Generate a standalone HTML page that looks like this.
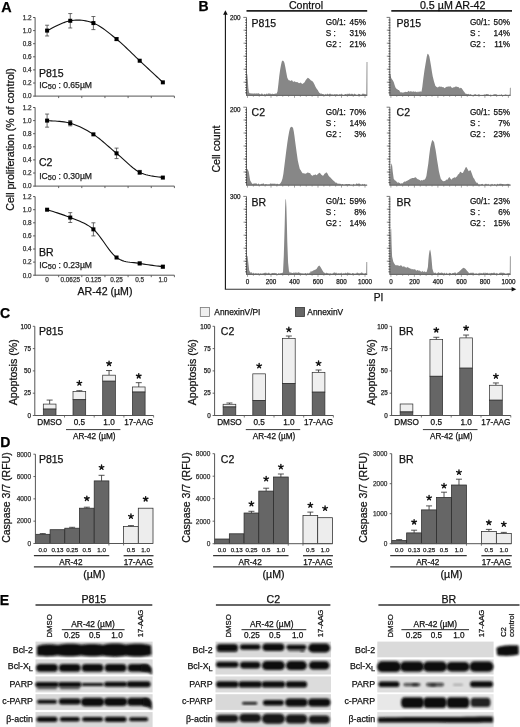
<!DOCTYPE html>
<html><head><meta charset="utf-8"><style>
html,body{margin:0;padding:0;background:#fff;}
svg{display:block;will-change:transform;}
text{font-family:"Liberation Sans",sans-serif;}
</style></head><body>
<svg width="520" height="727" viewBox="0 0 520 727">
<rect width="520" height="727" fill="#fff"/>
<text x="1.2" y="11.5" font-size="14.4" font-weight="bold" fill="#000" stroke="#000" stroke-width="0.25">A</text>
<text x="198.6" y="10.8" font-size="14" font-weight="bold" fill="#000" stroke="#000" stroke-width="0.25">B</text>
<text x="0" y="317.9" font-size="14" font-weight="bold" fill="#000" stroke="#000" stroke-width="0.25">C</text>
<text x="0.2" y="447.4" font-size="14" font-weight="bold" fill="#000" stroke="#000" stroke-width="0.25">D</text>
<text x="-0.3" y="605" font-size="14" font-weight="bold" fill="#000" stroke="#000" stroke-width="0.25">E</text>
<line x1="35.1" y1="17.5" x2="35.1" y2="96.6" stroke="#555" stroke-width="1"/>
<line x1="35.1" y1="96.1" x2="174.4" y2="96.1" stroke="#555" stroke-width="1"/>
<line x1="33.1" y1="96.1" x2="35.1" y2="96.1" stroke="#555" stroke-width="1"/>
<text x="31.6" y="98.4" font-size="6.4" text-anchor="end" fill="#333" stroke="#333" stroke-width="0.25">0.0</text>
<line x1="33.1" y1="83" x2="35.1" y2="83" stroke="#555" stroke-width="1"/>
<text x="31.6" y="85.3" font-size="6.4" text-anchor="end" fill="#333" stroke="#333" stroke-width="0.25">0.2</text>
<line x1="33.1" y1="69.9" x2="35.1" y2="69.9" stroke="#555" stroke-width="1"/>
<text x="31.6" y="72.2" font-size="6.4" text-anchor="end" fill="#333" stroke="#333" stroke-width="0.25">0.4</text>
<line x1="33.1" y1="56.8" x2="35.1" y2="56.8" stroke="#555" stroke-width="1"/>
<text x="31.6" y="59.1" font-size="6.4" text-anchor="end" fill="#333" stroke="#333" stroke-width="0.25">0.6</text>
<line x1="33.1" y1="43.7" x2="35.1" y2="43.7" stroke="#555" stroke-width="1"/>
<text x="31.6" y="46" font-size="6.4" text-anchor="end" fill="#333" stroke="#333" stroke-width="0.25">0.8</text>
<line x1="33.1" y1="30.6" x2="35.1" y2="30.6" stroke="#555" stroke-width="1"/>
<text x="31.6" y="32.9" font-size="6.4" text-anchor="end" fill="#333" stroke="#333" stroke-width="0.25">1.0</text>
<line x1="33.1" y1="17.5" x2="35.1" y2="17.5" stroke="#555" stroke-width="1"/>
<text x="31.6" y="19.8" font-size="6.4" text-anchor="end" fill="#333" stroke="#333" stroke-width="0.25">1.2</text>
<line x1="58.65" y1="96.1" x2="58.65" y2="98.1" stroke="#555" stroke-width="0.9"/>
<line x1="81.8" y1="96.1" x2="81.8" y2="98.1" stroke="#555" stroke-width="0.9"/>
<line x1="104.95" y1="96.1" x2="104.95" y2="98.1" stroke="#555" stroke-width="0.9"/>
<line x1="128.1" y1="96.1" x2="128.1" y2="98.1" stroke="#555" stroke-width="0.9"/>
<line x1="151.25" y1="96.1" x2="151.25" y2="98.1" stroke="#555" stroke-width="0.9"/>
<line x1="174.4" y1="96.1" x2="174.4" y2="98.1" stroke="#555" stroke-width="0.9"/>
<polyline fill="none" stroke="#111" stroke-width="1.1" points="47.1,30.6 48.22,30.09 49.62,29.39 51.26,28.55 53.1,27.6 55.1,26.59 57.23,25.54 59.43,24.51 61.68,23.52 63.92,22.61 66.12,21.82 68.25,21.2 70.25,20.78 72.18,20.5 74.11,20.3 76.04,20.17 77.97,20.13 79.9,20.17 81.83,20.3 83.75,20.52 85.68,20.84 87.61,21.24 89.54,21.75 91.47,22.36 93.4,23.07 95.33,23.91 97.26,24.88 99.19,25.98 101.12,27.19 103.05,28.5 104.97,29.88 106.9,31.34 108.83,32.84 110.76,34.39 112.69,35.96 114.62,37.54 116.55,39.11 118.48,40.72 120.41,42.4 122.34,44.13 124.27,45.91 126.2,47.73 128.12,49.57 130.05,51.44 131.98,53.32 133.91,55.2 135.84,57.06 137.77,58.91 139.7,60.73 141.7,62.6 143.83,64.58 146.03,66.64 148.27,68.74 150.52,70.83 152.72,72.89 154.85,74.87 156.85,76.74 158.69,78.46 160.33,79.99 161.73,81.3 162.85,82.34"/>
<line x1="47.1" y1="25.23" x2="47.1" y2="35.97" stroke="#444" stroke-width="0.8"/>
<line x1="45.1" y1="25.23" x2="49.1" y2="25.23" stroke="#444" stroke-width="0.8"/>
<line x1="45.1" y1="35.97" x2="49.1" y2="35.97" stroke="#444" stroke-width="0.8"/>
<rect x="45.1" y="28.6" width="4" height="4" fill="#000"/>
<line x1="70.25" y1="13.57" x2="70.25" y2="27.98" stroke="#444" stroke-width="0.8"/>
<line x1="68.25" y1="13.57" x2="72.25" y2="13.57" stroke="#444" stroke-width="0.8"/>
<line x1="68.25" y1="27.98" x2="72.25" y2="27.98" stroke="#444" stroke-width="0.8"/>
<rect x="68.25" y="18.78" width="4" height="4" fill="#000"/>
<line x1="93.4" y1="16.52" x2="93.4" y2="29.62" stroke="#444" stroke-width="0.8"/>
<line x1="91.4" y1="16.52" x2="95.4" y2="16.52" stroke="#444" stroke-width="0.8"/>
<line x1="91.4" y1="29.62" x2="95.4" y2="29.62" stroke="#444" stroke-width="0.8"/>
<rect x="91.4" y="21.07" width="4" height="4" fill="#000"/>
<line x1="116.55" y1="37.8" x2="116.55" y2="40.42" stroke="#444" stroke-width="0.8"/>
<line x1="114.55" y1="37.8" x2="118.55" y2="37.8" stroke="#444" stroke-width="0.8"/>
<line x1="114.55" y1="40.42" x2="118.55" y2="40.42" stroke="#444" stroke-width="0.8"/>
<rect x="114.55" y="37.11" width="4" height="4" fill="#000"/>
<rect x="137.7" y="58.73" width="4" height="4" fill="#000"/>
<rect x="160.85" y="80.34" width="4" height="4" fill="#000"/>
<text x="39" y="76.8" font-size="10.5" fill="#111" stroke="#111" stroke-width="0.25">P815</text>
<text x="39.2" y="87.7" font-size="8.6" fill="#222" stroke="#222" stroke-width="0.25">IC<tspan font-size="7.4" dy="1.6">50</tspan><tspan dy="-1.6"> : 0.65µM</tspan></text>
<line x1="35.1" y1="107.5" x2="35.1" y2="186.6" stroke="#555" stroke-width="1"/>
<line x1="35.1" y1="186.1" x2="174.4" y2="186.1" stroke="#555" stroke-width="1"/>
<line x1="33.1" y1="186.1" x2="35.1" y2="186.1" stroke="#555" stroke-width="1"/>
<text x="31.6" y="188.4" font-size="6.4" text-anchor="end" fill="#333" stroke="#333" stroke-width="0.25">0.0</text>
<line x1="33.1" y1="173" x2="35.1" y2="173" stroke="#555" stroke-width="1"/>
<text x="31.6" y="175.3" font-size="6.4" text-anchor="end" fill="#333" stroke="#333" stroke-width="0.25">0.2</text>
<line x1="33.1" y1="159.9" x2="35.1" y2="159.9" stroke="#555" stroke-width="1"/>
<text x="31.6" y="162.2" font-size="6.4" text-anchor="end" fill="#333" stroke="#333" stroke-width="0.25">0.4</text>
<line x1="33.1" y1="146.8" x2="35.1" y2="146.8" stroke="#555" stroke-width="1"/>
<text x="31.6" y="149.1" font-size="6.4" text-anchor="end" fill="#333" stroke="#333" stroke-width="0.25">0.6</text>
<line x1="33.1" y1="133.7" x2="35.1" y2="133.7" stroke="#555" stroke-width="1"/>
<text x="31.6" y="136" font-size="6.4" text-anchor="end" fill="#333" stroke="#333" stroke-width="0.25">0.8</text>
<line x1="33.1" y1="120.6" x2="35.1" y2="120.6" stroke="#555" stroke-width="1"/>
<text x="31.6" y="122.9" font-size="6.4" text-anchor="end" fill="#333" stroke="#333" stroke-width="0.25">1.0</text>
<line x1="33.1" y1="107.5" x2="35.1" y2="107.5" stroke="#555" stroke-width="1"/>
<text x="31.6" y="109.8" font-size="6.4" text-anchor="end" fill="#333" stroke="#333" stroke-width="0.25">1.2</text>
<line x1="58.65" y1="186.1" x2="58.65" y2="188.1" stroke="#555" stroke-width="0.9"/>
<line x1="81.8" y1="186.1" x2="81.8" y2="188.1" stroke="#555" stroke-width="0.9"/>
<line x1="104.95" y1="186.1" x2="104.95" y2="188.1" stroke="#555" stroke-width="0.9"/>
<line x1="128.1" y1="186.1" x2="128.1" y2="188.1" stroke="#555" stroke-width="0.9"/>
<line x1="151.25" y1="186.1" x2="151.25" y2="188.1" stroke="#555" stroke-width="0.9"/>
<line x1="174.4" y1="186.1" x2="174.4" y2="188.1" stroke="#555" stroke-width="0.9"/>
<polyline fill="none" stroke="#111" stroke-width="1.1" points="47.1,120.6 48.22,120.7 49.62,120.79 51.26,120.87 53.1,120.96 55.1,121.07 57.23,121.21 59.43,121.39 61.68,121.62 63.92,121.9 66.12,122.26 68.25,122.7 70.25,123.22 72.18,123.82 74.11,124.49 76.04,125.22 77.97,126.01 79.9,126.86 81.83,127.76 83.75,128.73 85.68,129.75 87.61,130.82 89.54,131.95 91.47,133.12 93.4,134.35 95.33,135.66 97.26,137.07 99.19,138.55 101.12,140.1 103.05,141.71 104.97,143.36 106.9,145.04 108.83,146.73 110.76,148.42 112.69,150.09 114.62,151.74 116.55,153.35 118.48,154.98 120.41,156.68 122.34,158.42 124.27,160.19 126.2,161.96 128.12,163.71 130.05,165.41 131.98,167.03 133.91,168.56 135.84,169.98 137.77,171.24 139.7,172.34 141.7,173.28 143.83,174.07 146.03,174.74 148.27,175.3 150.52,175.77 152.72,176.15 154.85,176.47 156.85,176.74 158.69,176.97 160.33,177.17 161.73,177.38 162.85,177.58"/>
<line x1="47.1" y1="114.05" x2="47.1" y2="127.15" stroke="#444" stroke-width="0.8"/>
<line x1="45.1" y1="114.05" x2="49.1" y2="114.05" stroke="#444" stroke-width="0.8"/>
<line x1="45.1" y1="127.15" x2="49.1" y2="127.15" stroke="#444" stroke-width="0.8"/>
<rect x="45.1" y="118.6" width="4" height="4" fill="#000"/>
<line x1="70.25" y1="120.6" x2="70.25" y2="125.84" stroke="#444" stroke-width="0.8"/>
<line x1="68.25" y1="120.6" x2="72.25" y2="120.6" stroke="#444" stroke-width="0.8"/>
<line x1="68.25" y1="125.84" x2="72.25" y2="125.84" stroke="#444" stroke-width="0.8"/>
<rect x="68.25" y="121.22" width="4" height="4" fill="#000"/>
<rect x="91.4" y="132.35" width="4" height="4" fill="#000"/>
<line x1="116.55" y1="148.11" x2="116.55" y2="158.59" stroke="#444" stroke-width="0.8"/>
<line x1="114.55" y1="148.11" x2="118.55" y2="148.11" stroke="#444" stroke-width="0.8"/>
<line x1="114.55" y1="158.59" x2="118.55" y2="158.59" stroke="#444" stroke-width="0.8"/>
<rect x="114.55" y="151.35" width="4" height="4" fill="#000"/>
<line x1="139.7" y1="170.38" x2="139.7" y2="174.31" stroke="#444" stroke-width="0.8"/>
<line x1="137.7" y1="170.38" x2="141.7" y2="170.38" stroke="#444" stroke-width="0.8"/>
<line x1="137.7" y1="174.31" x2="141.7" y2="174.31" stroke="#444" stroke-width="0.8"/>
<rect x="137.7" y="170.34" width="4" height="4" fill="#000"/>
<rect x="160.85" y="175.58" width="4" height="4" fill="#000"/>
<text x="39" y="166.4" font-size="10.5" fill="#111" stroke="#111" stroke-width="0.25">C2</text>
<text x="39.2" y="178.5" font-size="8.6" fill="#222" stroke="#222" stroke-width="0.25">IC<tspan font-size="7.4" dy="1.6">50</tspan><tspan dy="-1.6"> : 0.30µM</tspan></text>
<line x1="35.1" y1="196.6" x2="35.1" y2="275.7" stroke="#555" stroke-width="1"/>
<line x1="35.1" y1="275.2" x2="174.4" y2="275.2" stroke="#555" stroke-width="1"/>
<line x1="33.1" y1="275.2" x2="35.1" y2="275.2" stroke="#555" stroke-width="1"/>
<text x="31.6" y="277.5" font-size="6.4" text-anchor="end" fill="#333" stroke="#333" stroke-width="0.25">0.0</text>
<line x1="33.1" y1="262.1" x2="35.1" y2="262.1" stroke="#555" stroke-width="1"/>
<text x="31.6" y="264.4" font-size="6.4" text-anchor="end" fill="#333" stroke="#333" stroke-width="0.25">0.2</text>
<line x1="33.1" y1="249" x2="35.1" y2="249" stroke="#555" stroke-width="1"/>
<text x="31.6" y="251.3" font-size="6.4" text-anchor="end" fill="#333" stroke="#333" stroke-width="0.25">0.4</text>
<line x1="33.1" y1="235.9" x2="35.1" y2="235.9" stroke="#555" stroke-width="1"/>
<text x="31.6" y="238.2" font-size="6.4" text-anchor="end" fill="#333" stroke="#333" stroke-width="0.25">0.6</text>
<line x1="33.1" y1="222.8" x2="35.1" y2="222.8" stroke="#555" stroke-width="1"/>
<text x="31.6" y="225.1" font-size="6.4" text-anchor="end" fill="#333" stroke="#333" stroke-width="0.25">0.8</text>
<line x1="33.1" y1="209.7" x2="35.1" y2="209.7" stroke="#555" stroke-width="1"/>
<text x="31.6" y="212" font-size="6.4" text-anchor="end" fill="#333" stroke="#333" stroke-width="0.25">1.0</text>
<line x1="33.1" y1="196.6" x2="35.1" y2="196.6" stroke="#555" stroke-width="1"/>
<text x="31.6" y="198.9" font-size="6.4" text-anchor="end" fill="#333" stroke="#333" stroke-width="0.25">1.2</text>
<line x1="58.65" y1="275.2" x2="58.65" y2="277.2" stroke="#555" stroke-width="0.9"/>
<line x1="81.8" y1="275.2" x2="81.8" y2="277.2" stroke="#555" stroke-width="0.9"/>
<line x1="104.95" y1="275.2" x2="104.95" y2="277.2" stroke="#555" stroke-width="0.9"/>
<line x1="128.1" y1="275.2" x2="128.1" y2="277.2" stroke="#555" stroke-width="0.9"/>
<line x1="151.25" y1="275.2" x2="151.25" y2="277.2" stroke="#555" stroke-width="0.9"/>
<line x1="174.4" y1="275.2" x2="174.4" y2="277.2" stroke="#555" stroke-width="0.9"/>
<polyline fill="none" stroke="#111" stroke-width="1.1" points="47.1,209.7 48.22,210.07 49.62,210.51 51.26,211.02 53.1,211.59 55.1,212.22 57.23,212.89 59.43,213.61 61.68,214.36 63.92,215.13 66.12,215.93 68.25,216.74 70.25,217.56 72.18,218.35 74.11,219.11 76.04,219.85 77.97,220.59 79.9,221.36 81.83,222.19 83.75,223.08 85.68,224.06 87.61,225.16 89.54,226.39 91.47,227.78 93.4,229.35 95.33,231.19 97.26,233.35 99.19,235.76 101.12,238.35 103.05,241.05 104.97,243.8 106.9,246.53 108.83,249.17 110.76,251.66 112.69,253.92 114.62,255.9 116.55,257.51 118.48,258.79 120.41,259.82 122.34,260.62 124.27,261.23 126.2,261.68 128.12,262.02 130.05,262.27 131.98,262.46 133.91,262.64 135.84,262.84 137.77,263.08 139.7,263.41 141.7,263.79 143.83,264.15 146.03,264.49 148.27,264.82 150.52,265.13 152.72,265.42 154.85,265.69 156.85,265.93 158.69,266.16 160.33,266.36 161.73,266.54 162.85,266.69"/>
<rect x="45.1" y="207.7" width="4" height="4" fill="#000"/>
<line x1="70.25" y1="212.65" x2="70.25" y2="222.47" stroke="#444" stroke-width="0.8"/>
<line x1="68.25" y1="212.65" x2="72.25" y2="212.65" stroke="#444" stroke-width="0.8"/>
<line x1="68.25" y1="222.47" x2="72.25" y2="222.47" stroke="#444" stroke-width="0.8"/>
<rect x="68.25" y="215.56" width="4" height="4" fill="#000"/>
<line x1="93.4" y1="222.8" x2="93.4" y2="235.9" stroke="#444" stroke-width="0.8"/>
<line x1="91.4" y1="222.8" x2="95.4" y2="222.8" stroke="#444" stroke-width="0.8"/>
<line x1="91.4" y1="235.9" x2="95.4" y2="235.9" stroke="#444" stroke-width="0.8"/>
<rect x="91.4" y="227.35" width="4" height="4" fill="#000"/>
<rect x="114.55" y="255.51" width="4" height="4" fill="#000"/>
<line x1="139.7" y1="262.1" x2="139.7" y2="264.72" stroke="#444" stroke-width="0.8"/>
<line x1="137.7" y1="262.1" x2="141.7" y2="262.1" stroke="#444" stroke-width="0.8"/>
<line x1="137.7" y1="264.72" x2="141.7" y2="264.72" stroke="#444" stroke-width="0.8"/>
<rect x="137.7" y="261.41" width="4" height="4" fill="#000"/>
<line x1="162.85" y1="265.38" x2="162.85" y2="268" stroke="#444" stroke-width="0.8"/>
<line x1="160.85" y1="265.38" x2="164.85" y2="265.38" stroke="#444" stroke-width="0.8"/>
<line x1="160.85" y1="268" x2="164.85" y2="268" stroke="#444" stroke-width="0.8"/>
<rect x="160.85" y="264.69" width="4" height="4" fill="#000"/>
<text x="39" y="255.9" font-size="10.5" fill="#111" stroke="#111" stroke-width="0.25">BR</text>
<text x="39.2" y="267.6" font-size="8.6" fill="#222" stroke="#222" stroke-width="0.25">IC<tspan font-size="7.4" dy="1.6">50</tspan><tspan dy="-1.6"> : 0.23µM</tspan></text>
<text x="47.1" y="282.3" font-size="6.4" text-anchor="middle" fill="#333" stroke="#333" stroke-width="0.25">0</text>
<text x="70.25" y="282.3" font-size="6.4" text-anchor="middle" fill="#333" stroke="#333" stroke-width="0.25">0.0625</text>
<text x="93.4" y="282.3" font-size="6.4" text-anchor="middle" fill="#333" stroke="#333" stroke-width="0.25">0.125</text>
<text x="116.55" y="282.3" font-size="6.4" text-anchor="middle" fill="#333" stroke="#333" stroke-width="0.25">0.25</text>
<text x="139.7" y="282.3" font-size="6.4" text-anchor="middle" fill="#333" stroke="#333" stroke-width="0.25">0.5</text>
<text x="162.85" y="282.3" font-size="6.4" text-anchor="middle" fill="#333" stroke="#333" stroke-width="0.25">1.0</text>
<text x="105" y="294.9" font-size="10.6" text-anchor="middle" fill="#111" stroke="#111" stroke-width="0.25">AR-42 (µM)</text>
<text transform="translate(14.4,139.5) rotate(-90)" font-size="10.6" text-anchor="middle" fill="#111" stroke="#111" stroke-width="0.25">Cell proliferation (% of control)</text>
<line x1="225.4" y1="14" x2="225.4" y2="289.2" stroke="#111" stroke-width="1.1"/>
<line x1="224.85" y1="289.2" x2="512" y2="289.2" stroke="#333" stroke-width="1.1"/>
<polygon points="225.4,10.3 223.1,14.8 227.7,14.8" fill="#111"/>
<polygon points="516.3,289.2 511.6,286.9 511.6,291.5" fill="#111"/>
<text transform="translate(219.8,149) rotate(-90)" font-size="10.6" text-anchor="middle" fill="#111" stroke="#111" stroke-width="0.25">Cell count</text>
<text x="378.5" y="300.9" font-size="10.2" text-anchor="middle" fill="#111" stroke="#111" stroke-width="0.25">PI</text>
<line x1="246.5" y1="10.9" x2="367.2" y2="10.9" stroke="#222" stroke-width="1.6"/>
<line x1="391.3" y1="10.9" x2="512" y2="10.9" stroke="#222" stroke-width="1.6"/>
<text x="306" y="8.8" font-size="10.6" text-anchor="middle" fill="#111" stroke="#111" stroke-width="0.25">Control</text>
<text x="452.7" y="8.7" font-size="10.7" text-anchor="middle" fill="#111" stroke="#111" stroke-width="0.25">0.5 µM AR-42</text>
<polygon fill="#878787" points="246.6,95.4 246.7,74.5 247.3,74.2 247.8,80 248.3,88 249,92.5 250,93.6 250.71,93.36 251.43,93.13 252.14,93.91 252.86,93.07 253.57,93.8 254.29,93.57 255,93.14 255.71,93.84 256.43,93.16 257.14,93.79 257.86,93.27 258.57,93.33 259.29,93.86 260,94 260.71,94.48 261.43,93.42 262.14,93.56 262.86,94.16 263.57,94.64 264.29,94.07 265,93.8 265.71,94.66 266.43,93.26 267.14,94.47 267.86,93.61 268.57,93.38 269.29,93.33 270,93.9 270.72,93.6 271.44,94.35 272.17,93.39 272.89,93.98 273.61,94.05 274.33,93.64 275.06,93.89 275.78,93.16 276.5,93.8 277.5,91.5 278.4,84 279.2,76.5 280.1,70 281,65 281.8,61.5 282.7,60.4 283.5,61 284.4,62.7 285.3,67 286.2,71.9 287.3,77.7 288.2,79.6 289,80.6 289.75,80.14 290.5,81 291.5,80.3 292.25,80.56 293,81.7 293.75,81.72 294.5,81.2 295.25,81.64 296,82.3 296.85,82.02 297.7,82.3 299,83.2 299.75,83.03 300.5,82.6 301.4,83.23 302.3,84 303.4,83.2 304.6,82.3 305.8,80 306.9,78.8 307.8,77.8 308.7,78.3 309.8,79.2 311,80.6 312.2,81 313.3,82.3 314.5,84.5 315.6,86.9 317,89.2 317.75,90.05 318.5,91.5 319.27,92.71 320.03,93.33 320.8,93.8 321.53,93.52 322.27,94.11 323,94.1 323.71,94.14 324.42,94.67 325.12,94.46 325.83,93.8 326.54,94.84 327.25,93.55 327.96,94.01 328.67,94.52 329.38,93.62 330.08,94.13 330.79,93.45 331.5,94.4 332.21,94.55 332.92,94.27 333.62,94.73 334.33,93.89 335.04,94.46 335.75,94.32 336.46,94.3 337.17,94.12 337.88,94.7 338.58,94.86 339.29,94.16 340,94.2 340.71,94.45 341.42,93.54 342.13,94.5 342.84,94.42 343.55,94.94 344.26,94.68 344.98,93.88 345.69,94.03 346.4,94.45 347.11,93.48 347.82,94.14 348.53,93.7 349.24,93.63 349.95,93.54 350.66,94.6 351.37,93.64 352.08,93.82 352.79,94.04 353.51,94.76 354.22,93.57 354.93,94.12 355.64,94.27 356.35,94.78 357.06,94.68 357.77,94.75 358.48,93.87 359.19,94.07 359.9,93.99 360.61,94.78 361.32,94.89 362.04,93.68 362.75,93.71 363.46,93.8 364.17,93.8 364.88,94.18 365.59,94.33 366.3,94.2 366.6,61.9 367.4,61.9 367.4,95.4"/>
<line x1="246.5" y1="17.4" x2="246.5" y2="95.8" stroke="#555" stroke-width="0.9"/>
<line x1="246.5" y1="95.4" x2="367.2" y2="95.4" stroke="#555" stroke-width="0.9"/>
<line x1="245.1" y1="20" x2="247" y2="20" stroke="#333" stroke-width="0.75"/>
<line x1="245.1" y1="22.6" x2="247" y2="22.6" stroke="#333" stroke-width="0.75"/>
<line x1="245.1" y1="25.2" x2="247" y2="25.2" stroke="#333" stroke-width="0.75"/>
<line x1="245.1" y1="27.8" x2="247" y2="27.8" stroke="#333" stroke-width="0.75"/>
<line x1="245.1" y1="30.4" x2="247" y2="30.4" stroke="#333" stroke-width="0.75"/>
<line x1="245.1" y1="33" x2="247" y2="33" stroke="#333" stroke-width="0.75"/>
<line x1="245.1" y1="35.6" x2="247" y2="35.6" stroke="#333" stroke-width="0.75"/>
<line x1="245.1" y1="38.2" x2="247" y2="38.2" stroke="#333" stroke-width="0.75"/>
<line x1="245.1" y1="40.8" x2="247" y2="40.8" stroke="#333" stroke-width="0.75"/>
<line x1="245.1" y1="43.4" x2="247" y2="43.4" stroke="#333" stroke-width="0.75"/>
<line x1="245.1" y1="46" x2="247" y2="46" stroke="#333" stroke-width="0.75"/>
<line x1="245.1" y1="48.6" x2="247" y2="48.6" stroke="#333" stroke-width="0.75"/>
<line x1="245.1" y1="51.2" x2="247" y2="51.2" stroke="#333" stroke-width="0.75"/>
<line x1="245.1" y1="53.8" x2="247" y2="53.8" stroke="#333" stroke-width="0.75"/>
<line x1="245.1" y1="56.4" x2="247" y2="56.4" stroke="#333" stroke-width="0.75"/>
<line x1="245.1" y1="59" x2="247" y2="59" stroke="#333" stroke-width="0.75"/>
<line x1="245.1" y1="61.6" x2="247" y2="61.6" stroke="#333" stroke-width="0.75"/>
<line x1="245.1" y1="64.2" x2="247" y2="64.2" stroke="#333" stroke-width="0.75"/>
<line x1="245.1" y1="66.8" x2="247" y2="66.8" stroke="#333" stroke-width="0.75"/>
<line x1="245.1" y1="69.4" x2="247" y2="69.4" stroke="#333" stroke-width="0.75"/>
<line x1="245.1" y1="72" x2="247" y2="72" stroke="#333" stroke-width="0.75"/>
<line x1="245.1" y1="74.6" x2="247" y2="74.6" stroke="#333" stroke-width="0.75"/>
<line x1="245.1" y1="77.2" x2="247" y2="77.2" stroke="#333" stroke-width="0.75"/>
<line x1="245.1" y1="79.8" x2="247" y2="79.8" stroke="#333" stroke-width="0.75"/>
<line x1="245.1" y1="82.4" x2="247" y2="82.4" stroke="#333" stroke-width="0.75"/>
<line x1="245.1" y1="85" x2="247" y2="85" stroke="#333" stroke-width="0.75"/>
<line x1="245.1" y1="87.6" x2="247" y2="87.6" stroke="#333" stroke-width="0.75"/>
<line x1="245.1" y1="90.2" x2="247" y2="90.2" stroke="#333" stroke-width="0.75"/>
<line x1="245.1" y1="92.8" x2="247" y2="92.8" stroke="#333" stroke-width="0.75"/>
<line x1="243.5" y1="30.2" x2="246.5" y2="30.2" stroke="#444" stroke-width="0.6"/>
<line x1="243.5" y1="43.2" x2="246.5" y2="43.2" stroke="#444" stroke-width="0.6"/>
<line x1="243.5" y1="56.2" x2="246.5" y2="56.2" stroke="#444" stroke-width="0.6"/>
<line x1="243.5" y1="69.2" x2="246.5" y2="69.2" stroke="#444" stroke-width="0.6"/>
<line x1="243.5" y1="82.2" x2="246.5" y2="82.2" stroke="#444" stroke-width="0.6"/>
<line x1="243.3" y1="17.4" x2="246.5" y2="17.4" stroke="#555" stroke-width="0.8"/>
<line x1="247.5" y1="95.4" x2="247.5" y2="97.8" stroke="#666" stroke-width="0.6"/>
<line x1="253.38" y1="95.4" x2="253.38" y2="96.8" stroke="#666" stroke-width="0.6"/>
<line x1="259.25" y1="95.4" x2="259.25" y2="96.8" stroke="#666" stroke-width="0.6"/>
<line x1="265.12" y1="95.4" x2="265.12" y2="96.8" stroke="#666" stroke-width="0.6"/>
<line x1="271" y1="95.4" x2="271" y2="97.8" stroke="#666" stroke-width="0.6"/>
<line x1="276.88" y1="95.4" x2="276.88" y2="96.8" stroke="#666" stroke-width="0.6"/>
<line x1="282.75" y1="95.4" x2="282.75" y2="96.8" stroke="#666" stroke-width="0.6"/>
<line x1="288.62" y1="95.4" x2="288.62" y2="96.8" stroke="#666" stroke-width="0.6"/>
<line x1="294.5" y1="95.4" x2="294.5" y2="97.8" stroke="#666" stroke-width="0.6"/>
<line x1="300.38" y1="95.4" x2="300.38" y2="96.8" stroke="#666" stroke-width="0.6"/>
<line x1="306.25" y1="95.4" x2="306.25" y2="96.8" stroke="#666" stroke-width="0.6"/>
<line x1="312.12" y1="95.4" x2="312.12" y2="96.8" stroke="#666" stroke-width="0.6"/>
<line x1="318" y1="95.4" x2="318" y2="97.8" stroke="#666" stroke-width="0.6"/>
<line x1="323.88" y1="95.4" x2="323.88" y2="96.8" stroke="#666" stroke-width="0.6"/>
<line x1="329.75" y1="95.4" x2="329.75" y2="96.8" stroke="#666" stroke-width="0.6"/>
<line x1="335.62" y1="95.4" x2="335.62" y2="96.8" stroke="#666" stroke-width="0.6"/>
<line x1="341.5" y1="95.4" x2="341.5" y2="97.8" stroke="#666" stroke-width="0.6"/>
<line x1="347.38" y1="95.4" x2="347.38" y2="96.8" stroke="#666" stroke-width="0.6"/>
<line x1="353.25" y1="95.4" x2="353.25" y2="96.8" stroke="#666" stroke-width="0.6"/>
<line x1="359.12" y1="95.4" x2="359.12" y2="96.8" stroke="#666" stroke-width="0.6"/>
<line x1="365" y1="95.4" x2="365" y2="97.8" stroke="#666" stroke-width="0.6"/>
<text x="240.6" y="20" font-size="6.3" text-anchor="end" fill="#222" stroke="#222" stroke-width="0.25">200</text>
<polygon fill="#878787" points="389.9,95.4 389.9,73.2 390.5,74.5 391.2,77.9 392,79.2 392.9,80.5 393.8,82.2 394.6,85 395.5,87.4 396.7,89 397.4,89.14 398.1,90 398.97,90.12 399.83,91.61 400.7,92.6 401.52,92.25 402.35,92.4 403.18,92.83 404,92 404.8,92.21 405.6,91.86 406.4,91.94 407.2,91.94 408,91.6 408.75,90.76 409.5,91.85 410.25,91.49 411,90.9 411.75,91.66 412.5,91.75 413.25,91.34 414,91.7 414.8,91.69 415.6,91.39 416.4,92.32 417.2,91.6 418,92.4 418.7,91.61 419.4,91.68 420.1,91.47 420.8,91.6 421.5,91.7 422.3,87 423.2,79.6 424.5,70 425.8,62.3 426.7,57 427.5,53.7 428.4,54.2 429.3,56.2 430.1,60.5 431,65.8 431.8,71 432.7,76.2 434,81.5 435.3,85.7 436.6,87 437.9,87.4 438.67,86.63 439.45,86.45 440.23,86.58 441,87 441.75,86.6 442.5,87.2 443.25,86.89 444,87.8 444.75,88.16 445.5,87.57 446.25,86.67 447,87 447.75,86.53 448.5,86.57 449.25,86.5 450,86.6 450.75,86.28 451.5,87.62 452.25,88.09 453,87.6 453.75,87.35 454.5,87.18 455.25,86.38 456,86.8 456.75,86.4 457.5,86.96 458.25,87.05 459,87.6 459.8,88.47 460.6,87.84 461.4,88.01 462.2,89.1 463.5,91 464.7,92.6 465.57,93.84 466.43,93.78 467.3,94.3 468.2,93.87 469.1,94.56 470,94.6 470.71,93.89 471.42,94.65 472.13,95.32 472.84,95.15 473.55,94.9 474.26,94.25 474.98,94.41 475.69,94.11 476.4,95.02 477.11,94.67 477.82,95.04 478.53,94.37 479.24,94.21 479.95,95.09 480.66,95.35 481.37,95.16 482.08,95.09 482.79,95.11 483.5,94.99 484.21,94.23 484.93,94.66 485.64,94.42 486.35,93.93 487.06,93.93 487.77,94.31 488.48,94.29 489.19,94.94 489.9,95.33 490.61,94.57 491.32,95.31 492.03,95.39 492.74,95.34 493.45,94.46 494.16,94.24 494.88,94.25 495.59,94.21 496.3,94.22 497.01,94.85 497.72,95.27 498.43,95.18 499.14,94.64 499.85,94.9 500.56,95.13 501.27,94.06 501.98,94.92 502.69,95.3 503.4,95.11 504.11,95.06 504.82,94.65 505.54,94.21 506.25,95.12 506.96,94.44 507.67,95.15 508.38,95.4 509.09,94.54 509.8,94.7 509.9,87.8 510.7,87.8 510.7,95.4"/>
<line x1="389.8" y1="17.4" x2="389.8" y2="95.8" stroke="#555" stroke-width="0.9"/>
<line x1="389.8" y1="95.4" x2="510.6" y2="95.4" stroke="#555" stroke-width="0.9"/>
<line x1="388.4" y1="20" x2="390.3" y2="20" stroke="#333" stroke-width="0.75"/>
<line x1="388.4" y1="22.6" x2="390.3" y2="22.6" stroke="#333" stroke-width="0.75"/>
<line x1="388.4" y1="25.2" x2="390.3" y2="25.2" stroke="#333" stroke-width="0.75"/>
<line x1="388.4" y1="27.8" x2="390.3" y2="27.8" stroke="#333" stroke-width="0.75"/>
<line x1="388.4" y1="30.4" x2="390.3" y2="30.4" stroke="#333" stroke-width="0.75"/>
<line x1="388.4" y1="33" x2="390.3" y2="33" stroke="#333" stroke-width="0.75"/>
<line x1="388.4" y1="35.6" x2="390.3" y2="35.6" stroke="#333" stroke-width="0.75"/>
<line x1="388.4" y1="38.2" x2="390.3" y2="38.2" stroke="#333" stroke-width="0.75"/>
<line x1="388.4" y1="40.8" x2="390.3" y2="40.8" stroke="#333" stroke-width="0.75"/>
<line x1="388.4" y1="43.4" x2="390.3" y2="43.4" stroke="#333" stroke-width="0.75"/>
<line x1="388.4" y1="46" x2="390.3" y2="46" stroke="#333" stroke-width="0.75"/>
<line x1="388.4" y1="48.6" x2="390.3" y2="48.6" stroke="#333" stroke-width="0.75"/>
<line x1="388.4" y1="51.2" x2="390.3" y2="51.2" stroke="#333" stroke-width="0.75"/>
<line x1="388.4" y1="53.8" x2="390.3" y2="53.8" stroke="#333" stroke-width="0.75"/>
<line x1="388.4" y1="56.4" x2="390.3" y2="56.4" stroke="#333" stroke-width="0.75"/>
<line x1="388.4" y1="59" x2="390.3" y2="59" stroke="#333" stroke-width="0.75"/>
<line x1="388.4" y1="61.6" x2="390.3" y2="61.6" stroke="#333" stroke-width="0.75"/>
<line x1="388.4" y1="64.2" x2="390.3" y2="64.2" stroke="#333" stroke-width="0.75"/>
<line x1="388.4" y1="66.8" x2="390.3" y2="66.8" stroke="#333" stroke-width="0.75"/>
<line x1="388.4" y1="69.4" x2="390.3" y2="69.4" stroke="#333" stroke-width="0.75"/>
<line x1="388.4" y1="72" x2="390.3" y2="72" stroke="#333" stroke-width="0.75"/>
<line x1="388.4" y1="74.6" x2="390.3" y2="74.6" stroke="#333" stroke-width="0.75"/>
<line x1="388.4" y1="77.2" x2="390.3" y2="77.2" stroke="#333" stroke-width="0.75"/>
<line x1="388.4" y1="79.8" x2="390.3" y2="79.8" stroke="#333" stroke-width="0.75"/>
<line x1="388.4" y1="82.4" x2="390.3" y2="82.4" stroke="#333" stroke-width="0.75"/>
<line x1="388.4" y1="85" x2="390.3" y2="85" stroke="#333" stroke-width="0.75"/>
<line x1="388.4" y1="87.6" x2="390.3" y2="87.6" stroke="#333" stroke-width="0.75"/>
<line x1="388.4" y1="90.2" x2="390.3" y2="90.2" stroke="#333" stroke-width="0.75"/>
<line x1="388.4" y1="92.8" x2="390.3" y2="92.8" stroke="#333" stroke-width="0.75"/>
<line x1="386.8" y1="30.2" x2="389.8" y2="30.2" stroke="#444" stroke-width="0.6"/>
<line x1="386.8" y1="43.2" x2="389.8" y2="43.2" stroke="#444" stroke-width="0.6"/>
<line x1="386.8" y1="56.2" x2="389.8" y2="56.2" stroke="#444" stroke-width="0.6"/>
<line x1="386.8" y1="69.2" x2="389.8" y2="69.2" stroke="#444" stroke-width="0.6"/>
<line x1="386.8" y1="82.2" x2="389.8" y2="82.2" stroke="#444" stroke-width="0.6"/>
<line x1="386.6" y1="17.4" x2="389.8" y2="17.4" stroke="#555" stroke-width="0.8"/>
<line x1="390.9" y1="95.4" x2="390.9" y2="97.8" stroke="#666" stroke-width="0.6"/>
<line x1="396.77" y1="95.4" x2="396.77" y2="96.8" stroke="#666" stroke-width="0.6"/>
<line x1="402.65" y1="95.4" x2="402.65" y2="96.8" stroke="#666" stroke-width="0.6"/>
<line x1="408.52" y1="95.4" x2="408.52" y2="96.8" stroke="#666" stroke-width="0.6"/>
<line x1="414.4" y1="95.4" x2="414.4" y2="97.8" stroke="#666" stroke-width="0.6"/>
<line x1="420.27" y1="95.4" x2="420.27" y2="96.8" stroke="#666" stroke-width="0.6"/>
<line x1="426.15" y1="95.4" x2="426.15" y2="96.8" stroke="#666" stroke-width="0.6"/>
<line x1="432.02" y1="95.4" x2="432.02" y2="96.8" stroke="#666" stroke-width="0.6"/>
<line x1="437.9" y1="95.4" x2="437.9" y2="97.8" stroke="#666" stroke-width="0.6"/>
<line x1="443.77" y1="95.4" x2="443.77" y2="96.8" stroke="#666" stroke-width="0.6"/>
<line x1="449.65" y1="95.4" x2="449.65" y2="96.8" stroke="#666" stroke-width="0.6"/>
<line x1="455.52" y1="95.4" x2="455.52" y2="96.8" stroke="#666" stroke-width="0.6"/>
<line x1="461.4" y1="95.4" x2="461.4" y2="97.8" stroke="#666" stroke-width="0.6"/>
<line x1="467.27" y1="95.4" x2="467.27" y2="96.8" stroke="#666" stroke-width="0.6"/>
<line x1="473.15" y1="95.4" x2="473.15" y2="96.8" stroke="#666" stroke-width="0.6"/>
<line x1="479.02" y1="95.4" x2="479.02" y2="96.8" stroke="#666" stroke-width="0.6"/>
<line x1="484.9" y1="95.4" x2="484.9" y2="97.8" stroke="#666" stroke-width="0.6"/>
<line x1="490.77" y1="95.4" x2="490.77" y2="96.8" stroke="#666" stroke-width="0.6"/>
<line x1="496.65" y1="95.4" x2="496.65" y2="96.8" stroke="#666" stroke-width="0.6"/>
<line x1="502.52" y1="95.4" x2="502.52" y2="96.8" stroke="#666" stroke-width="0.6"/>
<line x1="508.4" y1="95.4" x2="508.4" y2="97.8" stroke="#666" stroke-width="0.6"/>
<polygon fill="#878787" points="246.6,185.2 246.8,169.5 247.5,169 248.2,170.5 248.8,171.9 249.5,176.5 250.2,180.6 250.95,181.7 251.7,183.1 252.52,183.95 253.35,183.79 254.18,183.13 255,183.8 255.71,183.25 256.43,183.31 257.14,184.45 257.86,184.32 258.57,183.34 259.29,184.38 260,184.62 260.71,184.15 261.43,183.7 262.14,184.02 262.86,183.4 263.57,183.24 264.29,184.69 265,184 265.73,184.22 266.46,184.03 267.19,184.64 267.92,183.88 268.65,184.53 269.38,184.46 270.11,183.53 270.84,183.59 271.57,183.64 272.3,183.56 273.03,184.07 273.76,183.58 274.49,183.81 275.22,183.38 275.95,184.54 276.68,183.7 277.41,183.85 278.14,184.04 278.87,184.51 279.6,183.9 280.6,183 281.5,181.5 282.5,178.5 283.4,173.8 284.3,166.5 285.3,158.5 286.3,150.5 287.3,143 288.2,137 289.2,131.5 290.1,128 291.1,126.7 292,127 293,127.7 293.7,131 294.4,135.4 295.1,141 295.9,146.9 296.8,153.5 297.8,160.4 298.8,165 299.8,169 300.75,170.33 301.7,171.9 302.6,173.18 303.5,173.2 304.5,173.5 305.5,173.8 306.5,173.25 307.5,172.6 308.45,172.79 309.4,172.9 310.2,173.13 311,174.8 312.3,175.8 313.03,175.44 313.77,174.79 314.5,175 315.37,174.19 316.23,175.32 317.1,174.8 318.5,173.5 319.25,172.71 320,172.9 321.4,174.8 322.1,175.26 322.8,175.8 323.65,175.14 324.5,173.8 325.4,173.13 326.3,172.3 327.5,173.5 328.6,175.8 330,177.2 330.75,177.69 331.5,178.7 332.25,179.48 333,180.2 334.4,181.5 335.12,182.08 335.85,182.93 336.57,182.41 337.3,183.5 338.2,183.76 339.1,183.46 340,184 340.71,183.67 341.41,184.42 342.12,184.03 342.82,184.11 343.53,184.42 344.23,184.65 344.94,183.95 345.64,184.21 346.35,184.06 347.05,184.07 347.76,184.35 348.46,183.99 349.17,184.12 349.87,184.04 350.58,184.74 351.28,184.38 351.99,184.65 352.69,184.76 353.4,183.74 354.11,184.19 354.81,184.78 355.52,184.63 356.22,183.58 356.93,183.56 357.63,184.04 358.34,183.5 359.04,183.75 359.75,183.51 360.45,184.41 361.16,184.58 361.86,184.76 362.57,183.65 363.27,184.5 363.98,184.42 364.68,183.65 365.39,184.76 366.09,184.9 366.8,184.2 366.8,185.2"/>
<line x1="246.5" y1="107.2" x2="246.5" y2="185.6" stroke="#555" stroke-width="0.9"/>
<line x1="246.5" y1="185.2" x2="367.2" y2="185.2" stroke="#555" stroke-width="0.9"/>
<line x1="245.1" y1="109.8" x2="247" y2="109.8" stroke="#333" stroke-width="0.75"/>
<line x1="245.1" y1="112.4" x2="247" y2="112.4" stroke="#333" stroke-width="0.75"/>
<line x1="245.1" y1="115" x2="247" y2="115" stroke="#333" stroke-width="0.75"/>
<line x1="245.1" y1="117.6" x2="247" y2="117.6" stroke="#333" stroke-width="0.75"/>
<line x1="245.1" y1="120.2" x2="247" y2="120.2" stroke="#333" stroke-width="0.75"/>
<line x1="245.1" y1="122.8" x2="247" y2="122.8" stroke="#333" stroke-width="0.75"/>
<line x1="245.1" y1="125.4" x2="247" y2="125.4" stroke="#333" stroke-width="0.75"/>
<line x1="245.1" y1="128" x2="247" y2="128" stroke="#333" stroke-width="0.75"/>
<line x1="245.1" y1="130.6" x2="247" y2="130.6" stroke="#333" stroke-width="0.75"/>
<line x1="245.1" y1="133.2" x2="247" y2="133.2" stroke="#333" stroke-width="0.75"/>
<line x1="245.1" y1="135.8" x2="247" y2="135.8" stroke="#333" stroke-width="0.75"/>
<line x1="245.1" y1="138.4" x2="247" y2="138.4" stroke="#333" stroke-width="0.75"/>
<line x1="245.1" y1="141" x2="247" y2="141" stroke="#333" stroke-width="0.75"/>
<line x1="245.1" y1="143.6" x2="247" y2="143.6" stroke="#333" stroke-width="0.75"/>
<line x1="245.1" y1="146.2" x2="247" y2="146.2" stroke="#333" stroke-width="0.75"/>
<line x1="245.1" y1="148.8" x2="247" y2="148.8" stroke="#333" stroke-width="0.75"/>
<line x1="245.1" y1="151.4" x2="247" y2="151.4" stroke="#333" stroke-width="0.75"/>
<line x1="245.1" y1="154" x2="247" y2="154" stroke="#333" stroke-width="0.75"/>
<line x1="245.1" y1="156.6" x2="247" y2="156.6" stroke="#333" stroke-width="0.75"/>
<line x1="245.1" y1="159.2" x2="247" y2="159.2" stroke="#333" stroke-width="0.75"/>
<line x1="245.1" y1="161.8" x2="247" y2="161.8" stroke="#333" stroke-width="0.75"/>
<line x1="245.1" y1="164.4" x2="247" y2="164.4" stroke="#333" stroke-width="0.75"/>
<line x1="245.1" y1="167" x2="247" y2="167" stroke="#333" stroke-width="0.75"/>
<line x1="245.1" y1="169.6" x2="247" y2="169.6" stroke="#333" stroke-width="0.75"/>
<line x1="245.1" y1="172.2" x2="247" y2="172.2" stroke="#333" stroke-width="0.75"/>
<line x1="245.1" y1="174.8" x2="247" y2="174.8" stroke="#333" stroke-width="0.75"/>
<line x1="245.1" y1="177.4" x2="247" y2="177.4" stroke="#333" stroke-width="0.75"/>
<line x1="245.1" y1="180" x2="247" y2="180" stroke="#333" stroke-width="0.75"/>
<line x1="245.1" y1="182.6" x2="247" y2="182.6" stroke="#333" stroke-width="0.75"/>
<line x1="243.5" y1="120" x2="246.5" y2="120" stroke="#444" stroke-width="0.6"/>
<line x1="243.5" y1="133" x2="246.5" y2="133" stroke="#444" stroke-width="0.6"/>
<line x1="243.5" y1="146" x2="246.5" y2="146" stroke="#444" stroke-width="0.6"/>
<line x1="243.5" y1="159" x2="246.5" y2="159" stroke="#444" stroke-width="0.6"/>
<line x1="243.5" y1="172" x2="246.5" y2="172" stroke="#444" stroke-width="0.6"/>
<line x1="243.3" y1="107.2" x2="246.5" y2="107.2" stroke="#555" stroke-width="0.8"/>
<line x1="247.5" y1="185.2" x2="247.5" y2="187.6" stroke="#666" stroke-width="0.6"/>
<line x1="253.38" y1="185.2" x2="253.38" y2="186.6" stroke="#666" stroke-width="0.6"/>
<line x1="259.25" y1="185.2" x2="259.25" y2="186.6" stroke="#666" stroke-width="0.6"/>
<line x1="265.12" y1="185.2" x2="265.12" y2="186.6" stroke="#666" stroke-width="0.6"/>
<line x1="271" y1="185.2" x2="271" y2="187.6" stroke="#666" stroke-width="0.6"/>
<line x1="276.88" y1="185.2" x2="276.88" y2="186.6" stroke="#666" stroke-width="0.6"/>
<line x1="282.75" y1="185.2" x2="282.75" y2="186.6" stroke="#666" stroke-width="0.6"/>
<line x1="288.62" y1="185.2" x2="288.62" y2="186.6" stroke="#666" stroke-width="0.6"/>
<line x1="294.5" y1="185.2" x2="294.5" y2="187.6" stroke="#666" stroke-width="0.6"/>
<line x1="300.38" y1="185.2" x2="300.38" y2="186.6" stroke="#666" stroke-width="0.6"/>
<line x1="306.25" y1="185.2" x2="306.25" y2="186.6" stroke="#666" stroke-width="0.6"/>
<line x1="312.12" y1="185.2" x2="312.12" y2="186.6" stroke="#666" stroke-width="0.6"/>
<line x1="318" y1="185.2" x2="318" y2="187.6" stroke="#666" stroke-width="0.6"/>
<line x1="323.88" y1="185.2" x2="323.88" y2="186.6" stroke="#666" stroke-width="0.6"/>
<line x1="329.75" y1="185.2" x2="329.75" y2="186.6" stroke="#666" stroke-width="0.6"/>
<line x1="335.62" y1="185.2" x2="335.62" y2="186.6" stroke="#666" stroke-width="0.6"/>
<line x1="341.5" y1="185.2" x2="341.5" y2="187.6" stroke="#666" stroke-width="0.6"/>
<line x1="347.38" y1="185.2" x2="347.38" y2="186.6" stroke="#666" stroke-width="0.6"/>
<line x1="353.25" y1="185.2" x2="353.25" y2="186.6" stroke="#666" stroke-width="0.6"/>
<line x1="359.12" y1="185.2" x2="359.12" y2="186.6" stroke="#666" stroke-width="0.6"/>
<line x1="365" y1="185.2" x2="365" y2="187.6" stroke="#666" stroke-width="0.6"/>
<text x="240.6" y="112.3" font-size="6.3" text-anchor="end" fill="#222" stroke="#222" stroke-width="0.25">200</text>
<polygon fill="#878787" points="390,185.2 390.4,170 391.2,165 391.8,163.3 392.3,167 392.7,171.2 393.7,178.8 395,180.6 395.8,180.73 396.6,181.7 397.4,182.75 398.2,182.28 399,182.8 399.8,182.95 400.6,183.87 401.4,183.3 402.35,183.4 403.3,182.5 404.25,181.59 405.2,181.7 406.1,181.15 407,180.8 407.7,180.49 408.4,179.89 409.1,179.8 410.05,178.79 411,178.7 411.95,178.03 412.9,177.9 413.85,177.98 414.8,177.4 415.8,177.23 416.8,178.5 417.75,179.13 418.7,179.6 419.65,180.11 420.6,180.8 421.55,179.88 422.5,180.4 423.5,179.85 424.5,179.8 425.5,178.5 426.4,176 427.3,170 428.3,163.5 429.2,155.5 430.2,148.1 431.2,143.5 432.2,140 433.1,140.8 434.1,142.3 434.8,146 435.6,150 436.3,154.5 437,159.6 438,165.5 438.9,171.2 439.9,175.5 440.8,178.8 442.2,180.4 442.95,180.99 443.7,181.2 444.65,180.92 445.6,180.6 446.55,179.55 447.5,179.8 448.5,178 449.5,176.9 450.4,178.6 451.4,179.8 452.3,178.6 453.3,177.9 454.7,177.2 455.45,177.78 456.2,176.9 457.1,176.13 458,174.5 459,174.01 460,172.1 460.75,171.86 461.5,172.8 462.9,173.1 463.8,170.95 464.7,169.5 465.55,167.51 466.4,166.9 467.5,169 468.7,171.2 469.6,170.5 470.6,170.2 472,174 472.75,176.37 473.5,177.9 474.25,178.86 475,180.5 476.4,182.7 477.12,182.52 477.85,183.33 478.57,184.44 479.3,184.2 480.2,184.71 481.1,183.9 482,184.3 482.71,183.78 483.43,184.93 484.14,184.41 484.85,184.61 485.56,183.7 486.27,183.65 486.99,184.6 487.7,184.21 488.41,183.68 489.12,184.98 489.84,184.53 490.55,184.78 491.26,183.71 491.98,184.87 492.69,183.69 493.4,184.88 494.11,184.27 494.82,184.1 495.54,184.43 496.25,184.99 496.96,184 497.68,183.8 498.39,184.4 499.1,183.97 499.81,183.78 500.52,183.86 501.24,183.69 501.95,183.92 502.66,184.09 503.38,184.08 504.09,184.77 504.8,184.06 505.51,184.38 506.23,183.9 506.94,184.16 507.65,183.67 508.36,184.02 509.07,183.67 509.79,184.75 510.5,184.4 510.5,185.2"/>
<line x1="389.8" y1="107.2" x2="389.8" y2="185.6" stroke="#555" stroke-width="0.9"/>
<line x1="389.8" y1="185.2" x2="510.6" y2="185.2" stroke="#555" stroke-width="0.9"/>
<line x1="388.4" y1="109.8" x2="390.3" y2="109.8" stroke="#333" stroke-width="0.75"/>
<line x1="388.4" y1="112.4" x2="390.3" y2="112.4" stroke="#333" stroke-width="0.75"/>
<line x1="388.4" y1="115" x2="390.3" y2="115" stroke="#333" stroke-width="0.75"/>
<line x1="388.4" y1="117.6" x2="390.3" y2="117.6" stroke="#333" stroke-width="0.75"/>
<line x1="388.4" y1="120.2" x2="390.3" y2="120.2" stroke="#333" stroke-width="0.75"/>
<line x1="388.4" y1="122.8" x2="390.3" y2="122.8" stroke="#333" stroke-width="0.75"/>
<line x1="388.4" y1="125.4" x2="390.3" y2="125.4" stroke="#333" stroke-width="0.75"/>
<line x1="388.4" y1="128" x2="390.3" y2="128" stroke="#333" stroke-width="0.75"/>
<line x1="388.4" y1="130.6" x2="390.3" y2="130.6" stroke="#333" stroke-width="0.75"/>
<line x1="388.4" y1="133.2" x2="390.3" y2="133.2" stroke="#333" stroke-width="0.75"/>
<line x1="388.4" y1="135.8" x2="390.3" y2="135.8" stroke="#333" stroke-width="0.75"/>
<line x1="388.4" y1="138.4" x2="390.3" y2="138.4" stroke="#333" stroke-width="0.75"/>
<line x1="388.4" y1="141" x2="390.3" y2="141" stroke="#333" stroke-width="0.75"/>
<line x1="388.4" y1="143.6" x2="390.3" y2="143.6" stroke="#333" stroke-width="0.75"/>
<line x1="388.4" y1="146.2" x2="390.3" y2="146.2" stroke="#333" stroke-width="0.75"/>
<line x1="388.4" y1="148.8" x2="390.3" y2="148.8" stroke="#333" stroke-width="0.75"/>
<line x1="388.4" y1="151.4" x2="390.3" y2="151.4" stroke="#333" stroke-width="0.75"/>
<line x1="388.4" y1="154" x2="390.3" y2="154" stroke="#333" stroke-width="0.75"/>
<line x1="388.4" y1="156.6" x2="390.3" y2="156.6" stroke="#333" stroke-width="0.75"/>
<line x1="388.4" y1="159.2" x2="390.3" y2="159.2" stroke="#333" stroke-width="0.75"/>
<line x1="388.4" y1="161.8" x2="390.3" y2="161.8" stroke="#333" stroke-width="0.75"/>
<line x1="388.4" y1="164.4" x2="390.3" y2="164.4" stroke="#333" stroke-width="0.75"/>
<line x1="388.4" y1="167" x2="390.3" y2="167" stroke="#333" stroke-width="0.75"/>
<line x1="388.4" y1="169.6" x2="390.3" y2="169.6" stroke="#333" stroke-width="0.75"/>
<line x1="388.4" y1="172.2" x2="390.3" y2="172.2" stroke="#333" stroke-width="0.75"/>
<line x1="388.4" y1="174.8" x2="390.3" y2="174.8" stroke="#333" stroke-width="0.75"/>
<line x1="388.4" y1="177.4" x2="390.3" y2="177.4" stroke="#333" stroke-width="0.75"/>
<line x1="388.4" y1="180" x2="390.3" y2="180" stroke="#333" stroke-width="0.75"/>
<line x1="388.4" y1="182.6" x2="390.3" y2="182.6" stroke="#333" stroke-width="0.75"/>
<line x1="386.8" y1="120" x2="389.8" y2="120" stroke="#444" stroke-width="0.6"/>
<line x1="386.8" y1="133" x2="389.8" y2="133" stroke="#444" stroke-width="0.6"/>
<line x1="386.8" y1="146" x2="389.8" y2="146" stroke="#444" stroke-width="0.6"/>
<line x1="386.8" y1="159" x2="389.8" y2="159" stroke="#444" stroke-width="0.6"/>
<line x1="386.8" y1="172" x2="389.8" y2="172" stroke="#444" stroke-width="0.6"/>
<line x1="386.6" y1="107.2" x2="389.8" y2="107.2" stroke="#555" stroke-width="0.8"/>
<line x1="390.9" y1="185.2" x2="390.9" y2="187.6" stroke="#666" stroke-width="0.6"/>
<line x1="396.77" y1="185.2" x2="396.77" y2="186.6" stroke="#666" stroke-width="0.6"/>
<line x1="402.65" y1="185.2" x2="402.65" y2="186.6" stroke="#666" stroke-width="0.6"/>
<line x1="408.52" y1="185.2" x2="408.52" y2="186.6" stroke="#666" stroke-width="0.6"/>
<line x1="414.4" y1="185.2" x2="414.4" y2="187.6" stroke="#666" stroke-width="0.6"/>
<line x1="420.27" y1="185.2" x2="420.27" y2="186.6" stroke="#666" stroke-width="0.6"/>
<line x1="426.15" y1="185.2" x2="426.15" y2="186.6" stroke="#666" stroke-width="0.6"/>
<line x1="432.02" y1="185.2" x2="432.02" y2="186.6" stroke="#666" stroke-width="0.6"/>
<line x1="437.9" y1="185.2" x2="437.9" y2="187.6" stroke="#666" stroke-width="0.6"/>
<line x1="443.77" y1="185.2" x2="443.77" y2="186.6" stroke="#666" stroke-width="0.6"/>
<line x1="449.65" y1="185.2" x2="449.65" y2="186.6" stroke="#666" stroke-width="0.6"/>
<line x1="455.52" y1="185.2" x2="455.52" y2="186.6" stroke="#666" stroke-width="0.6"/>
<line x1="461.4" y1="185.2" x2="461.4" y2="187.6" stroke="#666" stroke-width="0.6"/>
<line x1="467.27" y1="185.2" x2="467.27" y2="186.6" stroke="#666" stroke-width="0.6"/>
<line x1="473.15" y1="185.2" x2="473.15" y2="186.6" stroke="#666" stroke-width="0.6"/>
<line x1="479.02" y1="185.2" x2="479.02" y2="186.6" stroke="#666" stroke-width="0.6"/>
<line x1="484.9" y1="185.2" x2="484.9" y2="187.6" stroke="#666" stroke-width="0.6"/>
<line x1="490.77" y1="185.2" x2="490.77" y2="186.6" stroke="#666" stroke-width="0.6"/>
<line x1="496.65" y1="185.2" x2="496.65" y2="186.6" stroke="#666" stroke-width="0.6"/>
<line x1="502.52" y1="185.2" x2="502.52" y2="186.6" stroke="#666" stroke-width="0.6"/>
<line x1="508.4" y1="185.2" x2="508.4" y2="187.6" stroke="#666" stroke-width="0.6"/>
<polygon fill="#878787" points="246.6,274.4 246.8,256.5 247.5,255.8 248.3,262.7 249.2,270.5 249.9,271.68 250.6,272.7 251.33,272.33 252.07,272.86 252.8,273.65 253.53,272.51 254.27,273.68 255,273.3 255.71,273.2 256.42,273.29 257.13,273.8 257.84,273.14 258.55,273.31 259.26,273.58 259.97,274.02 260.68,273.06 261.39,273.8 262.11,273.61 262.82,273.5 263.53,273.16 264.24,273.07 264.95,272.63 265.66,272.74 266.37,272.66 267.08,273.66 267.79,272.93 268.5,272.79 269.21,272.68 269.92,273.81 270.63,273.86 271.34,273.56 272.05,272.97 272.76,272.91 273.47,272.99 274.18,273.24 274.89,272.79 275.61,273.22 276.32,272.94 277.03,273.99 277.74,274.01 278.45,273.37 279.16,272.92 279.87,274 280.58,273.01 281.29,273.08 282,273.3 283,272.2 283.8,255.8 284.7,224.6 285.1,208 285.5,198.7 286,200 286.4,207.3 286.9,225 287.3,241.9 288.1,262.7 289,271.3 290,273 290.71,272.26 291.43,272.84 292.14,272.98 292.86,273.03 293.57,272.59 294.29,273.05 295,272.31 295.71,272.7 296.43,272.45 297.14,272.92 297.86,272.39 298.57,272.37 299.29,272.8 300,272.7 300.71,273.24 301.43,273.16 302.14,273.5 302.86,273.36 303.57,273.46 304.29,273.71 305,272.98 305.71,272.9 306.43,273.89 307.14,272.65 307.86,273.51 308.57,273.4 309.29,272.51 310,273.2 310.6,271.3 311.47,271.54 312.33,271.35 313.2,270.5 314.1,270.34 315,269.8 315.85,269.6 316.7,268.7 318,266.5 319.3,265.6 320.5,267 321.5,268.7 322.5,270.5 323.6,272.2 325,273.1 325.71,273.57 326.42,272.57 327.13,273.15 327.84,273.12 328.55,273.62 329.26,273.58 329.97,273.61 330.68,273.25 331.39,273.72 332.1,273.41 332.81,273.43 333.52,272.74 334.23,272.44 334.94,272.6 335.66,272.94 336.37,272.56 337.08,273.66 337.79,273.25 338.5,273.36 339.21,273.36 339.92,273.44 340.63,273.16 341.34,272.43 342.05,273.63 342.76,273.56 343.47,273.19 344.18,273.25 344.89,273.44 345.6,272.55 346.31,273.56 347.02,272.84 347.73,272.57 348.44,272.86 349.15,273.56 349.86,272.78 350.57,273.58 351.28,273.94 351.99,273.22 352.7,273.06 353.41,273.21 354.12,273.52 354.83,273.65 355.54,273.42 356.26,273.47 356.97,272.62 357.68,272.73 358.39,272.89 359.1,273.63 359.81,272.98 360.52,273.37 361.23,272.54 361.94,272.62 362.65,272.94 363.36,273.54 364.07,273.58 364.78,273.56 365.49,272.98 366.2,273.3 366.4,262 367.2,262 367.2,274.4"/>
<line x1="246.5" y1="196.4" x2="246.5" y2="274.8" stroke="#555" stroke-width="0.9"/>
<line x1="246.5" y1="274.4" x2="367.2" y2="274.4" stroke="#555" stroke-width="0.9"/>
<line x1="245.1" y1="199" x2="247" y2="199" stroke="#333" stroke-width="0.75"/>
<line x1="245.1" y1="201.6" x2="247" y2="201.6" stroke="#333" stroke-width="0.75"/>
<line x1="245.1" y1="204.2" x2="247" y2="204.2" stroke="#333" stroke-width="0.75"/>
<line x1="245.1" y1="206.8" x2="247" y2="206.8" stroke="#333" stroke-width="0.75"/>
<line x1="245.1" y1="209.4" x2="247" y2="209.4" stroke="#333" stroke-width="0.75"/>
<line x1="245.1" y1="212" x2="247" y2="212" stroke="#333" stroke-width="0.75"/>
<line x1="245.1" y1="214.6" x2="247" y2="214.6" stroke="#333" stroke-width="0.75"/>
<line x1="245.1" y1="217.2" x2="247" y2="217.2" stroke="#333" stroke-width="0.75"/>
<line x1="245.1" y1="219.8" x2="247" y2="219.8" stroke="#333" stroke-width="0.75"/>
<line x1="245.1" y1="222.4" x2="247" y2="222.4" stroke="#333" stroke-width="0.75"/>
<line x1="245.1" y1="225" x2="247" y2="225" stroke="#333" stroke-width="0.75"/>
<line x1="245.1" y1="227.6" x2="247" y2="227.6" stroke="#333" stroke-width="0.75"/>
<line x1="245.1" y1="230.2" x2="247" y2="230.2" stroke="#333" stroke-width="0.75"/>
<line x1="245.1" y1="232.8" x2="247" y2="232.8" stroke="#333" stroke-width="0.75"/>
<line x1="245.1" y1="235.4" x2="247" y2="235.4" stroke="#333" stroke-width="0.75"/>
<line x1="245.1" y1="238" x2="247" y2="238" stroke="#333" stroke-width="0.75"/>
<line x1="245.1" y1="240.6" x2="247" y2="240.6" stroke="#333" stroke-width="0.75"/>
<line x1="245.1" y1="243.2" x2="247" y2="243.2" stroke="#333" stroke-width="0.75"/>
<line x1="245.1" y1="245.8" x2="247" y2="245.8" stroke="#333" stroke-width="0.75"/>
<line x1="245.1" y1="248.4" x2="247" y2="248.4" stroke="#333" stroke-width="0.75"/>
<line x1="245.1" y1="251" x2="247" y2="251" stroke="#333" stroke-width="0.75"/>
<line x1="245.1" y1="253.6" x2="247" y2="253.6" stroke="#333" stroke-width="0.75"/>
<line x1="245.1" y1="256.2" x2="247" y2="256.2" stroke="#333" stroke-width="0.75"/>
<line x1="245.1" y1="258.8" x2="247" y2="258.8" stroke="#333" stroke-width="0.75"/>
<line x1="245.1" y1="261.4" x2="247" y2="261.4" stroke="#333" stroke-width="0.75"/>
<line x1="245.1" y1="264" x2="247" y2="264" stroke="#333" stroke-width="0.75"/>
<line x1="245.1" y1="266.6" x2="247" y2="266.6" stroke="#333" stroke-width="0.75"/>
<line x1="245.1" y1="269.2" x2="247" y2="269.2" stroke="#333" stroke-width="0.75"/>
<line x1="245.1" y1="271.8" x2="247" y2="271.8" stroke="#333" stroke-width="0.75"/>
<line x1="243.5" y1="209.2" x2="246.5" y2="209.2" stroke="#444" stroke-width="0.6"/>
<line x1="243.5" y1="222.2" x2="246.5" y2="222.2" stroke="#444" stroke-width="0.6"/>
<line x1="243.5" y1="235.2" x2="246.5" y2="235.2" stroke="#444" stroke-width="0.6"/>
<line x1="243.5" y1="248.2" x2="246.5" y2="248.2" stroke="#444" stroke-width="0.6"/>
<line x1="243.5" y1="261.2" x2="246.5" y2="261.2" stroke="#444" stroke-width="0.6"/>
<line x1="243.3" y1="196.4" x2="246.5" y2="196.4" stroke="#555" stroke-width="0.8"/>
<line x1="247.5" y1="274.4" x2="247.5" y2="276.8" stroke="#666" stroke-width="0.6"/>
<line x1="253.38" y1="274.4" x2="253.38" y2="275.8" stroke="#666" stroke-width="0.6"/>
<line x1="259.25" y1="274.4" x2="259.25" y2="275.8" stroke="#666" stroke-width="0.6"/>
<line x1="265.12" y1="274.4" x2="265.12" y2="275.8" stroke="#666" stroke-width="0.6"/>
<line x1="271" y1="274.4" x2="271" y2="276.8" stroke="#666" stroke-width="0.6"/>
<line x1="276.88" y1="274.4" x2="276.88" y2="275.8" stroke="#666" stroke-width="0.6"/>
<line x1="282.75" y1="274.4" x2="282.75" y2="275.8" stroke="#666" stroke-width="0.6"/>
<line x1="288.62" y1="274.4" x2="288.62" y2="275.8" stroke="#666" stroke-width="0.6"/>
<line x1="294.5" y1="274.4" x2="294.5" y2="276.8" stroke="#666" stroke-width="0.6"/>
<line x1="300.38" y1="274.4" x2="300.38" y2="275.8" stroke="#666" stroke-width="0.6"/>
<line x1="306.25" y1="274.4" x2="306.25" y2="275.8" stroke="#666" stroke-width="0.6"/>
<line x1="312.12" y1="274.4" x2="312.12" y2="275.8" stroke="#666" stroke-width="0.6"/>
<line x1="318" y1="274.4" x2="318" y2="276.8" stroke="#666" stroke-width="0.6"/>
<line x1="323.88" y1="274.4" x2="323.88" y2="275.8" stroke="#666" stroke-width="0.6"/>
<line x1="329.75" y1="274.4" x2="329.75" y2="275.8" stroke="#666" stroke-width="0.6"/>
<line x1="335.62" y1="274.4" x2="335.62" y2="275.8" stroke="#666" stroke-width="0.6"/>
<line x1="341.5" y1="274.4" x2="341.5" y2="276.8" stroke="#666" stroke-width="0.6"/>
<line x1="347.38" y1="274.4" x2="347.38" y2="275.8" stroke="#666" stroke-width="0.6"/>
<line x1="353.25" y1="274.4" x2="353.25" y2="275.8" stroke="#666" stroke-width="0.6"/>
<line x1="359.12" y1="274.4" x2="359.12" y2="275.8" stroke="#666" stroke-width="0.6"/>
<line x1="365" y1="274.4" x2="365" y2="276.8" stroke="#666" stroke-width="0.6"/>
<text x="240.6" y="199" font-size="6.3" text-anchor="end" fill="#222" stroke="#222" stroke-width="0.25">300</text>
<text x="247.5" y="283.5" font-size="6.3" text-anchor="middle" fill="#222" stroke="#222" stroke-width="0.25">0</text>
<text x="271" y="283.5" font-size="6.3" text-anchor="middle" fill="#222" stroke="#222" stroke-width="0.25">200</text>
<text x="294.5" y="283.5" font-size="6.3" text-anchor="middle" fill="#222" stroke="#222" stroke-width="0.25">400</text>
<text x="318" y="283.5" font-size="6.3" text-anchor="middle" fill="#222" stroke="#222" stroke-width="0.25">600</text>
<text x="341.5" y="283.5" font-size="6.3" text-anchor="middle" fill="#222" stroke="#222" stroke-width="0.25">800</text>
<text x="365" y="283.5" font-size="6.3" text-anchor="middle" fill="#222" stroke="#222" stroke-width="0.25">1000</text>
<polygon fill="#878787" points="390,274.4 390.3,236 390.8,229 391.2,228.8 391.6,245 392.1,256.5 393.3,261.7 394.4,263.8 395.5,265.2 396.5,265.27 397.5,265.3 398.27,265.51 399.03,265.78 399.8,266.1 400.65,265.28 401.5,265.6 402.4,266.69 403.3,266.6 404.2,266.28 405.1,267.58 406,267 406.83,267.92 407.67,266.81 408.5,267.8 409.33,267.97 410.17,268.75 411,268.5 411.9,269.54 412.8,269.09 413.7,269.5 414.52,269.35 415.35,269.46 416.18,270.77 417,270.3 417.72,270.05 418.44,270.78 419.16,270.3 419.88,271.06 420.6,271.2 421.45,271.95 422.3,270.8 423.15,271.91 424,271.5 424.9,271.61 425.8,272.28 426.7,271.8 427.3,269.5 427.9,266.9 428.4,260 428.9,254.8 429.5,251 430.1,249.6 430.7,252 431.3,256.5 431.8,262 432.4,268.7 433.6,272.5 434.4,273.01 435.2,272.5 436,273.1 436.7,273.7 437.4,273.09 438.1,272.4 438.8,272.37 439.5,273.1 440.2,273.05 440.9,272.83 441.6,272.59 442.3,272.9 443,272.86 443.7,273.65 444.4,272.39 445.1,273.52 445.8,273.66 446.5,272.58 447.2,273.79 447.9,273.48 448.6,273.76 449.3,272.85 450,272.97 450.7,273.01 451.4,273.92 452.1,273.31 452.8,272.97 453.5,273.08 454.2,272.85 454.9,272.51 455.6,272.6 456.3,273.7 457,273.2 457.85,272.33 458.7,272.1 460,270.8 461.3,269.5 462.4,268.5 463.5,267.8 464.6,268.2 465.6,269 467,270.8 468.2,272.1 469.1,273.2 470,273 470.71,272.63 471.42,272.66 472.13,273.03 472.84,272.56 473.55,272.84 474.26,273.72 474.98,273.61 475.69,273.51 476.4,273.24 477.11,273.67 477.82,273.72 478.53,273.14 479.24,273.4 479.95,272.4 480.66,273.43 481.37,273.01 482.08,273.47 482.79,273.31 483.5,272.78 484.21,272.43 484.93,273.75 485.64,272.56 486.35,273.08 487.06,272.89 487.77,272.83 488.48,273.5 489.19,273.86 489.9,272.79 490.61,273.39 491.32,272.86 492.03,273.25 492.74,273.01 493.45,272.68 494.16,272.67 494.88,272.75 495.59,273.8 496.3,273.19 497.01,272.78 497.72,273.82 498.43,273.96 499.14,273.14 499.85,272.68 500.56,272.77 501.27,272.62 501.98,273 502.69,272.63 503.4,272.86 504.11,272.89 504.82,273.37 505.54,273.85 506.25,273.65 506.96,273.15 507.67,273.15 508.38,273.33 509.09,273.11 509.8,273.3 509.9,256.2 510.7,256.2 510.7,274.4"/>
<line x1="389.8" y1="196.4" x2="389.8" y2="274.8" stroke="#555" stroke-width="0.9"/>
<line x1="389.8" y1="274.4" x2="510.6" y2="274.4" stroke="#555" stroke-width="0.9"/>
<line x1="388.4" y1="199" x2="390.3" y2="199" stroke="#333" stroke-width="0.75"/>
<line x1="388.4" y1="201.6" x2="390.3" y2="201.6" stroke="#333" stroke-width="0.75"/>
<line x1="388.4" y1="204.2" x2="390.3" y2="204.2" stroke="#333" stroke-width="0.75"/>
<line x1="388.4" y1="206.8" x2="390.3" y2="206.8" stroke="#333" stroke-width="0.75"/>
<line x1="388.4" y1="209.4" x2="390.3" y2="209.4" stroke="#333" stroke-width="0.75"/>
<line x1="388.4" y1="212" x2="390.3" y2="212" stroke="#333" stroke-width="0.75"/>
<line x1="388.4" y1="214.6" x2="390.3" y2="214.6" stroke="#333" stroke-width="0.75"/>
<line x1="388.4" y1="217.2" x2="390.3" y2="217.2" stroke="#333" stroke-width="0.75"/>
<line x1="388.4" y1="219.8" x2="390.3" y2="219.8" stroke="#333" stroke-width="0.75"/>
<line x1="388.4" y1="222.4" x2="390.3" y2="222.4" stroke="#333" stroke-width="0.75"/>
<line x1="388.4" y1="225" x2="390.3" y2="225" stroke="#333" stroke-width="0.75"/>
<line x1="388.4" y1="227.6" x2="390.3" y2="227.6" stroke="#333" stroke-width="0.75"/>
<line x1="388.4" y1="230.2" x2="390.3" y2="230.2" stroke="#333" stroke-width="0.75"/>
<line x1="388.4" y1="232.8" x2="390.3" y2="232.8" stroke="#333" stroke-width="0.75"/>
<line x1="388.4" y1="235.4" x2="390.3" y2="235.4" stroke="#333" stroke-width="0.75"/>
<line x1="388.4" y1="238" x2="390.3" y2="238" stroke="#333" stroke-width="0.75"/>
<line x1="388.4" y1="240.6" x2="390.3" y2="240.6" stroke="#333" stroke-width="0.75"/>
<line x1="388.4" y1="243.2" x2="390.3" y2="243.2" stroke="#333" stroke-width="0.75"/>
<line x1="388.4" y1="245.8" x2="390.3" y2="245.8" stroke="#333" stroke-width="0.75"/>
<line x1="388.4" y1="248.4" x2="390.3" y2="248.4" stroke="#333" stroke-width="0.75"/>
<line x1="388.4" y1="251" x2="390.3" y2="251" stroke="#333" stroke-width="0.75"/>
<line x1="388.4" y1="253.6" x2="390.3" y2="253.6" stroke="#333" stroke-width="0.75"/>
<line x1="388.4" y1="256.2" x2="390.3" y2="256.2" stroke="#333" stroke-width="0.75"/>
<line x1="388.4" y1="258.8" x2="390.3" y2="258.8" stroke="#333" stroke-width="0.75"/>
<line x1="388.4" y1="261.4" x2="390.3" y2="261.4" stroke="#333" stroke-width="0.75"/>
<line x1="388.4" y1="264" x2="390.3" y2="264" stroke="#333" stroke-width="0.75"/>
<line x1="388.4" y1="266.6" x2="390.3" y2="266.6" stroke="#333" stroke-width="0.75"/>
<line x1="388.4" y1="269.2" x2="390.3" y2="269.2" stroke="#333" stroke-width="0.75"/>
<line x1="388.4" y1="271.8" x2="390.3" y2="271.8" stroke="#333" stroke-width="0.75"/>
<line x1="386.8" y1="209.2" x2="389.8" y2="209.2" stroke="#444" stroke-width="0.6"/>
<line x1="386.8" y1="222.2" x2="389.8" y2="222.2" stroke="#444" stroke-width="0.6"/>
<line x1="386.8" y1="235.2" x2="389.8" y2="235.2" stroke="#444" stroke-width="0.6"/>
<line x1="386.8" y1="248.2" x2="389.8" y2="248.2" stroke="#444" stroke-width="0.6"/>
<line x1="386.8" y1="261.2" x2="389.8" y2="261.2" stroke="#444" stroke-width="0.6"/>
<line x1="386.6" y1="196.4" x2="389.8" y2="196.4" stroke="#555" stroke-width="0.8"/>
<line x1="390.9" y1="274.4" x2="390.9" y2="276.8" stroke="#666" stroke-width="0.6"/>
<line x1="396.77" y1="274.4" x2="396.77" y2="275.8" stroke="#666" stroke-width="0.6"/>
<line x1="402.65" y1="274.4" x2="402.65" y2="275.8" stroke="#666" stroke-width="0.6"/>
<line x1="408.52" y1="274.4" x2="408.52" y2="275.8" stroke="#666" stroke-width="0.6"/>
<line x1="414.4" y1="274.4" x2="414.4" y2="276.8" stroke="#666" stroke-width="0.6"/>
<line x1="420.27" y1="274.4" x2="420.27" y2="275.8" stroke="#666" stroke-width="0.6"/>
<line x1="426.15" y1="274.4" x2="426.15" y2="275.8" stroke="#666" stroke-width="0.6"/>
<line x1="432.02" y1="274.4" x2="432.02" y2="275.8" stroke="#666" stroke-width="0.6"/>
<line x1="437.9" y1="274.4" x2="437.9" y2="276.8" stroke="#666" stroke-width="0.6"/>
<line x1="443.77" y1="274.4" x2="443.77" y2="275.8" stroke="#666" stroke-width="0.6"/>
<line x1="449.65" y1="274.4" x2="449.65" y2="275.8" stroke="#666" stroke-width="0.6"/>
<line x1="455.52" y1="274.4" x2="455.52" y2="275.8" stroke="#666" stroke-width="0.6"/>
<line x1="461.4" y1="274.4" x2="461.4" y2="276.8" stroke="#666" stroke-width="0.6"/>
<line x1="467.27" y1="274.4" x2="467.27" y2="275.8" stroke="#666" stroke-width="0.6"/>
<line x1="473.15" y1="274.4" x2="473.15" y2="275.8" stroke="#666" stroke-width="0.6"/>
<line x1="479.02" y1="274.4" x2="479.02" y2="275.8" stroke="#666" stroke-width="0.6"/>
<line x1="484.9" y1="274.4" x2="484.9" y2="276.8" stroke="#666" stroke-width="0.6"/>
<line x1="490.77" y1="274.4" x2="490.77" y2="275.8" stroke="#666" stroke-width="0.6"/>
<line x1="496.65" y1="274.4" x2="496.65" y2="275.8" stroke="#666" stroke-width="0.6"/>
<line x1="502.52" y1="274.4" x2="502.52" y2="275.8" stroke="#666" stroke-width="0.6"/>
<line x1="508.4" y1="274.4" x2="508.4" y2="276.8" stroke="#666" stroke-width="0.6"/>
<text x="390.9" y="283.5" font-size="6.3" text-anchor="middle" fill="#222" stroke="#222" stroke-width="0.25">0</text>
<text x="414.4" y="283.5" font-size="6.3" text-anchor="middle" fill="#222" stroke="#222" stroke-width="0.25">200</text>
<text x="437.9" y="283.5" font-size="6.3" text-anchor="middle" fill="#222" stroke="#222" stroke-width="0.25">400</text>
<text x="461.4" y="283.5" font-size="6.3" text-anchor="middle" fill="#222" stroke="#222" stroke-width="0.25">600</text>
<text x="484.9" y="283.5" font-size="6.3" text-anchor="middle" fill="#222" stroke="#222" stroke-width="0.25">800</text>
<text x="508.4" y="283.5" font-size="6.3" text-anchor="middle" fill="#222" stroke="#222" stroke-width="0.25">1000</text>
<text x="251.6" y="26.5" font-size="10.5" fill="#111" stroke="#111" stroke-width="0.25">P815</text>
<text x="325.8" y="25.4" font-size="8.2" fill="#111" stroke="#111" stroke-width="0.25">G0/1:</text>
<text x="325.8" y="36" font-size="8.2" fill="#111" stroke="#111" stroke-width="0.25">S :</text>
<text x="325.8" y="46.6" font-size="8.2" fill="#111" stroke="#111" stroke-width="0.25">G2 :</text>
<text x="366" y="25.4" font-size="8.2" text-anchor="end" fill="#111" stroke="#111" stroke-width="0.25">45%</text>
<text x="366" y="36" font-size="8.2" text-anchor="end" fill="#111" stroke="#111" stroke-width="0.25">31%</text>
<text x="366" y="46.6" font-size="8.2" text-anchor="end" fill="#111" stroke="#111" stroke-width="0.25">21%</text>
<text x="396.6" y="26.5" font-size="10.5" fill="#111" stroke="#111" stroke-width="0.25">P815</text>
<text x="469.9" y="25.4" font-size="8.2" fill="#111" stroke="#111" stroke-width="0.25">G0/1:</text>
<text x="469.9" y="36" font-size="8.2" fill="#111" stroke="#111" stroke-width="0.25">S :</text>
<text x="469.9" y="46.6" font-size="8.2" fill="#111" stroke="#111" stroke-width="0.25">G2 :</text>
<text x="510" y="25.4" font-size="8.2" text-anchor="end" fill="#111" stroke="#111" stroke-width="0.25">50%</text>
<text x="510" y="36" font-size="8.2" text-anchor="end" fill="#111" stroke="#111" stroke-width="0.25">14%</text>
<text x="510" y="46.6" font-size="8.2" text-anchor="end" fill="#111" stroke="#111" stroke-width="0.25">11%</text>
<text x="251.6" y="116.4" font-size="10.5" fill="#111" stroke="#111" stroke-width="0.25">C2</text>
<text x="325.8" y="115.3" font-size="8.2" fill="#111" stroke="#111" stroke-width="0.25">G0/1:</text>
<text x="325.8" y="125.9" font-size="8.2" fill="#111" stroke="#111" stroke-width="0.25">S :</text>
<text x="325.8" y="136.5" font-size="8.2" fill="#111" stroke="#111" stroke-width="0.25">G2 :</text>
<text x="366" y="115.3" font-size="8.2" text-anchor="end" fill="#111" stroke="#111" stroke-width="0.25">70%</text>
<text x="366" y="125.9" font-size="8.2" text-anchor="end" fill="#111" stroke="#111" stroke-width="0.25">14%</text>
<text x="366" y="136.5" font-size="8.2" text-anchor="end" fill="#111" stroke="#111" stroke-width="0.25">3%</text>
<text x="396.6" y="116.4" font-size="10.5" fill="#111" stroke="#111" stroke-width="0.25">C2</text>
<text x="469.9" y="115.3" font-size="8.2" fill="#111" stroke="#111" stroke-width="0.25">G0/1:</text>
<text x="469.9" y="125.9" font-size="8.2" fill="#111" stroke="#111" stroke-width="0.25">S :</text>
<text x="469.9" y="136.5" font-size="8.2" fill="#111" stroke="#111" stroke-width="0.25">G2 :</text>
<text x="510" y="115.3" font-size="8.2" text-anchor="end" fill="#111" stroke="#111" stroke-width="0.25">55%</text>
<text x="510" y="125.9" font-size="8.2" text-anchor="end" fill="#111" stroke="#111" stroke-width="0.25">7%</text>
<text x="510" y="136.5" font-size="8.2" text-anchor="end" fill="#111" stroke="#111" stroke-width="0.25">23%</text>
<text x="251.6" y="206.4" font-size="10.5" fill="#111" stroke="#111" stroke-width="0.25">BR</text>
<text x="325.8" y="204.4" font-size="8.2" fill="#111" stroke="#111" stroke-width="0.25">G0/1:</text>
<text x="325.8" y="215" font-size="8.2" fill="#111" stroke="#111" stroke-width="0.25">S :</text>
<text x="325.8" y="225.6" font-size="8.2" fill="#111" stroke="#111" stroke-width="0.25">G2 :</text>
<text x="366" y="204.4" font-size="8.2" text-anchor="end" fill="#111" stroke="#111" stroke-width="0.25">59%</text>
<text x="366" y="215" font-size="8.2" text-anchor="end" fill="#111" stroke="#111" stroke-width="0.25">8%</text>
<text x="366" y="225.6" font-size="8.2" text-anchor="end" fill="#111" stroke="#111" stroke-width="0.25">14%</text>
<text x="396.6" y="206.4" font-size="10.5" fill="#111" stroke="#111" stroke-width="0.25">BR</text>
<text x="469.9" y="204.4" font-size="8.2" fill="#111" stroke="#111" stroke-width="0.25">G0/1:</text>
<text x="469.9" y="215" font-size="8.2" fill="#111" stroke="#111" stroke-width="0.25">S :</text>
<text x="469.9" y="225.6" font-size="8.2" fill="#111" stroke="#111" stroke-width="0.25">G2 :</text>
<text x="510" y="204.4" font-size="8.2" text-anchor="end" fill="#111" stroke="#111" stroke-width="0.25">23%</text>
<text x="510" y="215" font-size="8.2" text-anchor="end" fill="#111" stroke="#111" stroke-width="0.25">6%</text>
<text x="510" y="225.6" font-size="8.2" text-anchor="end" fill="#111" stroke="#111" stroke-width="0.25">15%</text>
<line x1="49.65" y1="400.07" x2="49.65" y2="404.08" stroke="#2a2a2a" stroke-width="0.8"/>
<line x1="46.65" y1="400.07" x2="52.65" y2="400.07" stroke="#2a2a2a" stroke-width="0.8"/>
<rect x="43.3" y="404.08" width="12.7" height="5" fill="#efefef" stroke="#2a2a2a" stroke-width="0.7"/>
<rect x="43.3" y="409.08" width="12.7" height="6.42" fill="#666666" stroke="#2a2a2a" stroke-width="0.7"/>
<line x1="79.35" y1="390.7" x2="79.35" y2="391.59" stroke="#2a2a2a" stroke-width="0.8"/>
<line x1="76.35" y1="390.7" x2="82.35" y2="390.7" stroke="#2a2a2a" stroke-width="0.8"/>
<rect x="73" y="391.59" width="12.7" height="8.12" fill="#efefef" stroke="#2a2a2a" stroke-width="0.7"/>
<rect x="73" y="399.71" width="12.7" height="15.79" fill="#666666" stroke="#2a2a2a" stroke-width="0.7"/>
<path d="M79.35,383.1L79.35,380.65M79.35,383.1L81.68,382.34M79.35,383.1L80.79,385.08M79.35,383.1L77.91,385.08M79.35,383.1L77.02,382.34" stroke="#111" stroke-width="1.35" stroke-linecap="round" fill="none"/>
<line x1="109.05" y1="370.54" x2="109.05" y2="375.18" stroke="#2a2a2a" stroke-width="0.8"/>
<line x1="106.05" y1="370.54" x2="112.05" y2="370.54" stroke="#2a2a2a" stroke-width="0.8"/>
<rect x="102.7" y="375.18" width="12.7" height="5.98" fill="#efefef" stroke="#2a2a2a" stroke-width="0.7"/>
<rect x="102.7" y="381.16" width="12.7" height="34.34" fill="#666666" stroke="#2a2a2a" stroke-width="0.7"/>
<path d="M109.05,363.5L109.05,361.05M109.05,363.5L111.38,362.74M109.05,363.5L110.49,365.48M109.05,363.5L107.61,365.48M109.05,363.5L106.72,362.74" stroke="#111" stroke-width="1.35" stroke-linecap="round" fill="none"/>
<line x1="138.75" y1="382.67" x2="138.75" y2="386.96" stroke="#2a2a2a" stroke-width="0.8"/>
<line x1="135.75" y1="382.67" x2="141.75" y2="382.67" stroke="#2a2a2a" stroke-width="0.8"/>
<rect x="132.4" y="386.96" width="12.7" height="5.08" fill="#efefef" stroke="#2a2a2a" stroke-width="0.7"/>
<rect x="132.4" y="392.04" width="12.7" height="23.46" fill="#666666" stroke="#2a2a2a" stroke-width="0.7"/>
<path d="M138.75,376L138.75,373.55M138.75,376L141.08,375.24M138.75,376L140.19,377.98M138.75,376L137.31,377.98M138.75,376L136.42,375.24" stroke="#111" stroke-width="1.35" stroke-linecap="round" fill="none"/>
<line x1="34.8" y1="326.3" x2="34.8" y2="416" stroke="#555" stroke-width="1"/>
<line x1="34.8" y1="415.5" x2="153.6" y2="415.5" stroke="#555" stroke-width="1"/>
<line x1="32.8" y1="415.5" x2="34.8" y2="415.5" stroke="#555" stroke-width="0.9"/>
<text x="31" y="417.7" font-size="6.3" text-anchor="end" fill="#222" stroke="#222" stroke-width="0.25">0</text>
<line x1="32.8" y1="393.2" x2="34.8" y2="393.2" stroke="#555" stroke-width="0.9"/>
<text x="31" y="395.4" font-size="6.3" text-anchor="end" fill="#222" stroke="#222" stroke-width="0.25">25</text>
<line x1="32.8" y1="370.9" x2="34.8" y2="370.9" stroke="#555" stroke-width="0.9"/>
<text x="31" y="373.1" font-size="6.3" text-anchor="end" fill="#222" stroke="#222" stroke-width="0.25">50</text>
<line x1="32.8" y1="348.6" x2="34.8" y2="348.6" stroke="#555" stroke-width="0.9"/>
<text x="31" y="350.8" font-size="6.3" text-anchor="end" fill="#222" stroke="#222" stroke-width="0.25">75</text>
<line x1="32.8" y1="326.3" x2="34.8" y2="326.3" stroke="#555" stroke-width="0.9"/>
<text x="31" y="328.5" font-size="6.3" text-anchor="end" fill="#222" stroke="#222" stroke-width="0.25">100</text>
<line x1="64.5" y1="415.5" x2="64.5" y2="417.5" stroke="#555" stroke-width="0.8"/>
<line x1="94.2" y1="415.5" x2="94.2" y2="417.5" stroke="#555" stroke-width="0.8"/>
<line x1="123.9" y1="415.5" x2="123.9" y2="417.5" stroke="#555" stroke-width="0.8"/>
<line x1="153.6" y1="415.5" x2="153.6" y2="417.5" stroke="#555" stroke-width="0.8"/>
<text x="38.9" y="334.6" font-size="10.5" fill="#111" stroke="#111" stroke-width="0.25">P815</text>
<text transform="translate(16.7,372.3) rotate(-90)" font-size="10.6" text-anchor="middle" fill="#111" stroke="#111" stroke-width="0.25">Apoptosis (%)</text>
<text x="49.65" y="425.4" font-size="8.2" text-anchor="middle" fill="#111" stroke="#111" stroke-width="0.25">DMSO</text>
<text x="79.35" y="425.4" font-size="8.2" text-anchor="middle" fill="#111" stroke="#111" stroke-width="0.25">0.5</text>
<text x="109.05" y="425.4" font-size="8.2" text-anchor="middle" fill="#111" stroke="#111" stroke-width="0.25">1.0</text>
<text x="138.75" y="425.4" font-size="8.2" text-anchor="middle" fill="#111" stroke="#111" stroke-width="0.25">17-AAG</text>
<line x1="66" y1="429.6" x2="120.4" y2="429.6" stroke="#222" stroke-width="0.9"/>
<text x="94.2" y="438.6" font-size="8.2" text-anchor="middle" fill="#111" stroke="#111" stroke-width="0.25">AR-42 (µM)</text>
<line x1="229.45" y1="403.01" x2="229.45" y2="404.26" stroke="#2a2a2a" stroke-width="0.8"/>
<line x1="226.45" y1="403.01" x2="232.45" y2="403.01" stroke="#2a2a2a" stroke-width="0.8"/>
<rect x="223.1" y="404.26" width="12.7" height="2.68" fill="#efefef" stroke="#2a2a2a" stroke-width="0.7"/>
<rect x="223.1" y="406.94" width="12.7" height="8.56" fill="#666666" stroke="#2a2a2a" stroke-width="0.7"/>
<rect x="252.8" y="373.84" width="12.7" height="26.58" fill="#efefef" stroke="#2a2a2a" stroke-width="0.7"/>
<rect x="252.8" y="400.43" width="12.7" height="15.07" fill="#666666" stroke="#2a2a2a" stroke-width="0.7"/>
<path d="M259.15,365.8L259.15,363.35M259.15,365.8L261.48,365.04M259.15,365.8L260.59,367.78M259.15,365.8L257.71,367.78M259.15,365.8L256.82,365.04" stroke="#111" stroke-width="1.35" stroke-linecap="round" fill="none"/>
<line x1="288.85" y1="336.02" x2="288.85" y2="338.34" stroke="#2a2a2a" stroke-width="0.8"/>
<line x1="285.85" y1="336.02" x2="291.85" y2="336.02" stroke="#2a2a2a" stroke-width="0.8"/>
<rect x="282.5" y="338.34" width="12.7" height="45.14" fill="#efefef" stroke="#2a2a2a" stroke-width="0.7"/>
<rect x="282.5" y="383.48" width="12.7" height="32.02" fill="#666666" stroke="#2a2a2a" stroke-width="0.7"/>
<path d="M288.85,329.6L288.85,327.15M288.85,329.6L291.18,328.84M288.85,329.6L290.29,331.58M288.85,329.6L287.41,331.58M288.85,329.6L286.52,328.84" stroke="#111" stroke-width="1.35" stroke-linecap="round" fill="none"/>
<line x1="318.55" y1="370.01" x2="318.55" y2="372.33" stroke="#2a2a2a" stroke-width="0.8"/>
<line x1="315.55" y1="370.01" x2="321.55" y2="370.01" stroke="#2a2a2a" stroke-width="0.8"/>
<rect x="312.2" y="372.33" width="12.7" height="19.8" fill="#efefef" stroke="#2a2a2a" stroke-width="0.7"/>
<rect x="312.2" y="392.13" width="12.7" height="23.37" fill="#666666" stroke="#2a2a2a" stroke-width="0.7"/>
<path d="M318.55,363.3L318.55,360.85M318.55,363.3L320.88,362.54M318.55,363.3L319.99,365.28M318.55,363.3L317.11,365.28M318.55,363.3L316.22,362.54" stroke="#111" stroke-width="1.35" stroke-linecap="round" fill="none"/>
<line x1="214.6" y1="326.3" x2="214.6" y2="416" stroke="#555" stroke-width="1"/>
<line x1="214.6" y1="415.5" x2="333.4" y2="415.5" stroke="#555" stroke-width="1"/>
<line x1="212.6" y1="415.5" x2="214.6" y2="415.5" stroke="#555" stroke-width="0.9"/>
<text x="210.8" y="417.7" font-size="6.3" text-anchor="end" fill="#222" stroke="#222" stroke-width="0.25">0</text>
<line x1="212.6" y1="393.2" x2="214.6" y2="393.2" stroke="#555" stroke-width="0.9"/>
<text x="210.8" y="395.4" font-size="6.3" text-anchor="end" fill="#222" stroke="#222" stroke-width="0.25">25</text>
<line x1="212.6" y1="370.9" x2="214.6" y2="370.9" stroke="#555" stroke-width="0.9"/>
<text x="210.8" y="373.1" font-size="6.3" text-anchor="end" fill="#222" stroke="#222" stroke-width="0.25">50</text>
<line x1="212.6" y1="348.6" x2="214.6" y2="348.6" stroke="#555" stroke-width="0.9"/>
<text x="210.8" y="350.8" font-size="6.3" text-anchor="end" fill="#222" stroke="#222" stroke-width="0.25">75</text>
<line x1="212.6" y1="326.3" x2="214.6" y2="326.3" stroke="#555" stroke-width="0.9"/>
<text x="210.8" y="328.5" font-size="6.3" text-anchor="end" fill="#222" stroke="#222" stroke-width="0.25">100</text>
<line x1="244.3" y1="415.5" x2="244.3" y2="417.5" stroke="#555" stroke-width="0.8"/>
<line x1="274" y1="415.5" x2="274" y2="417.5" stroke="#555" stroke-width="0.8"/>
<line x1="303.7" y1="415.5" x2="303.7" y2="417.5" stroke="#555" stroke-width="0.8"/>
<line x1="333.4" y1="415.5" x2="333.4" y2="417.5" stroke="#555" stroke-width="0.8"/>
<text x="220.8" y="335.1" font-size="10.5" fill="#111" stroke="#111" stroke-width="0.25">C2</text>
<text transform="translate(195.7,372.3) rotate(-90)" font-size="10.6" text-anchor="middle" fill="#111" stroke="#111" stroke-width="0.25">Apoptosis (%)</text>
<text x="229.45" y="425.4" font-size="8.2" text-anchor="middle" fill="#111" stroke="#111" stroke-width="0.25">DMSO</text>
<text x="259.15" y="425.4" font-size="8.2" text-anchor="middle" fill="#111" stroke="#111" stroke-width="0.25">0.5</text>
<text x="288.85" y="425.4" font-size="8.2" text-anchor="middle" fill="#111" stroke="#111" stroke-width="0.25">1.0</text>
<text x="318.55" y="425.4" font-size="8.2" text-anchor="middle" fill="#111" stroke="#111" stroke-width="0.25">17-AAG</text>
<line x1="245.8" y1="429.6" x2="300.2" y2="429.6" stroke="#222" stroke-width="0.9"/>
<text x="274" y="438.6" font-size="8.2" text-anchor="middle" fill="#111" stroke="#111" stroke-width="0.25">AR-42 (µM)</text>
<rect x="400.15" y="403.99" width="12.7" height="7.94" fill="#efefef" stroke="#2a2a2a" stroke-width="0.7"/>
<rect x="400.15" y="411.93" width="12.7" height="3.57" fill="#666666" stroke="#2a2a2a" stroke-width="0.7"/>
<line x1="436.3" y1="337.27" x2="436.3" y2="339.59" stroke="#2a2a2a" stroke-width="0.8"/>
<line x1="433.3" y1="337.27" x2="439.3" y2="337.27" stroke="#2a2a2a" stroke-width="0.8"/>
<rect x="429.95" y="339.59" width="12.7" height="36.66" fill="#efefef" stroke="#2a2a2a" stroke-width="0.7"/>
<rect x="429.95" y="376.25" width="12.7" height="39.25" fill="#666666" stroke="#2a2a2a" stroke-width="0.7"/>
<path d="M436.3,330L436.3,327.55M436.3,330L438.63,329.24M436.3,330L437.74,331.98M436.3,330L434.86,331.98M436.3,330L433.97,329.24" stroke="#111" stroke-width="1.35" stroke-linecap="round" fill="none"/>
<line x1="466.1" y1="335.04" x2="466.1" y2="337.9" stroke="#2a2a2a" stroke-width="0.8"/>
<line x1="463.1" y1="335.04" x2="469.1" y2="335.04" stroke="#2a2a2a" stroke-width="0.8"/>
<rect x="459.75" y="337.9" width="12.7" height="30.24" fill="#efefef" stroke="#2a2a2a" stroke-width="0.7"/>
<rect x="459.75" y="368.13" width="12.7" height="47.37" fill="#666666" stroke="#2a2a2a" stroke-width="0.7"/>
<path d="M466.1,328L466.1,325.55M466.1,328L468.43,327.24M466.1,328L467.54,329.98M466.1,328L464.66,329.98M466.1,328L463.77,327.24" stroke="#111" stroke-width="1.35" stroke-linecap="round" fill="none"/>
<line x1="495.9" y1="382.94" x2="495.9" y2="385.26" stroke="#2a2a2a" stroke-width="0.8"/>
<line x1="492.9" y1="382.94" x2="498.9" y2="382.94" stroke="#2a2a2a" stroke-width="0.8"/>
<rect x="489.55" y="385.26" width="12.7" height="14.9" fill="#efefef" stroke="#2a2a2a" stroke-width="0.7"/>
<rect x="489.55" y="400.16" width="12.7" height="15.34" fill="#666666" stroke="#2a2a2a" stroke-width="0.7"/>
<path d="M495.9,376.2L495.9,373.75M495.9,376.2L498.23,375.44M495.9,376.2L497.34,378.18M495.9,376.2L494.46,378.18M495.9,376.2L493.57,375.44" stroke="#111" stroke-width="1.35" stroke-linecap="round" fill="none"/>
<line x1="391.6" y1="326.3" x2="391.6" y2="416" stroke="#555" stroke-width="1"/>
<line x1="391.6" y1="415.5" x2="510.8" y2="415.5" stroke="#555" stroke-width="1"/>
<line x1="389.6" y1="415.5" x2="391.6" y2="415.5" stroke="#555" stroke-width="0.9"/>
<text x="387.8" y="417.7" font-size="6.3" text-anchor="end" fill="#222" stroke="#222" stroke-width="0.25">0</text>
<line x1="389.6" y1="393.2" x2="391.6" y2="393.2" stroke="#555" stroke-width="0.9"/>
<text x="387.8" y="395.4" font-size="6.3" text-anchor="end" fill="#222" stroke="#222" stroke-width="0.25">25</text>
<line x1="389.6" y1="370.9" x2="391.6" y2="370.9" stroke="#555" stroke-width="0.9"/>
<text x="387.8" y="373.1" font-size="6.3" text-anchor="end" fill="#222" stroke="#222" stroke-width="0.25">50</text>
<line x1="389.6" y1="348.6" x2="391.6" y2="348.6" stroke="#555" stroke-width="0.9"/>
<text x="387.8" y="350.8" font-size="6.3" text-anchor="end" fill="#222" stroke="#222" stroke-width="0.25">75</text>
<line x1="389.6" y1="326.3" x2="391.6" y2="326.3" stroke="#555" stroke-width="0.9"/>
<text x="387.8" y="328.5" font-size="6.3" text-anchor="end" fill="#222" stroke="#222" stroke-width="0.25">100</text>
<line x1="421.4" y1="415.5" x2="421.4" y2="417.5" stroke="#555" stroke-width="0.8"/>
<line x1="451.2" y1="415.5" x2="451.2" y2="417.5" stroke="#555" stroke-width="0.8"/>
<line x1="481" y1="415.5" x2="481" y2="417.5" stroke="#555" stroke-width="0.8"/>
<line x1="510.8" y1="415.5" x2="510.8" y2="417.5" stroke="#555" stroke-width="0.8"/>
<text x="399.1" y="335" font-size="10.5" fill="#111" stroke="#111" stroke-width="0.25">BR</text>
<text transform="translate(374.8,372.3) rotate(-90)" font-size="10.6" text-anchor="middle" fill="#111" stroke="#111" stroke-width="0.25">Apoptosis (%)</text>
<text x="406.5" y="425.4" font-size="8.2" text-anchor="middle" fill="#111" stroke="#111" stroke-width="0.25">DMSO</text>
<text x="436.3" y="425.4" font-size="8.2" text-anchor="middle" fill="#111" stroke="#111" stroke-width="0.25">0.5</text>
<text x="466.1" y="425.4" font-size="8.2" text-anchor="middle" fill="#111" stroke="#111" stroke-width="0.25">1.0</text>
<text x="495.9" y="425.4" font-size="8.2" text-anchor="middle" fill="#111" stroke="#111" stroke-width="0.25">17-AAG</text>
<line x1="422.9" y1="429.6" x2="477.5" y2="429.6" stroke="#222" stroke-width="0.9"/>
<text x="451.2" y="438.6" font-size="8.2" text-anchor="middle" fill="#111" stroke="#111" stroke-width="0.25">AR-42 (µM)</text>
<rect x="200.3" y="307.5" width="9.2" height="9" fill="#efefef" stroke="#777" stroke-width="0.8"/>
<text x="214.3" y="314.9" font-size="8.4" fill="#111" stroke="#111" stroke-width="0.25">AnnexinV/PI</text>
<rect x="295.5" y="307.5" width="9" height="8.9" fill="#666666" stroke="#333" stroke-width="0.8"/>
<text x="307.3" y="314.9" font-size="8.4" fill="#111" stroke="#111" stroke-width="0.25">AnnexinV</text>
<line x1="42.75" y1="533.6" x2="42.75" y2="534.3" stroke="#2a2a2a" stroke-width="0.8"/>
<line x1="39.75" y1="533.6" x2="45.75" y2="533.6" stroke="#2a2a2a" stroke-width="0.8"/>
<rect x="35.4" y="534.3" width="14.7" height="9.2" fill="#666666" stroke="#2a2a2a" stroke-width="0.75"/>
<rect x="50.1" y="529.7" width="14.7" height="13.8" fill="#666666" stroke="#2a2a2a" stroke-width="0.75"/>
<line x1="72.15" y1="527.3" x2="72.15" y2="528.2" stroke="#2a2a2a" stroke-width="0.8"/>
<line x1="69.15" y1="527.3" x2="75.15" y2="527.3" stroke="#2a2a2a" stroke-width="0.8"/>
<rect x="64.8" y="528.2" width="14.7" height="15.3" fill="#666666" stroke="#2a2a2a" stroke-width="0.75"/>
<line x1="86.85" y1="507.2" x2="86.85" y2="508.2" stroke="#2a2a2a" stroke-width="0.8"/>
<line x1="83.85" y1="507.2" x2="89.85" y2="507.2" stroke="#2a2a2a" stroke-width="0.8"/>
<rect x="79.5" y="508.2" width="14.7" height="35.3" fill="#666666" stroke="#2a2a2a" stroke-width="0.75"/>
<path d="M86.85,498.5L86.85,496.05M86.85,498.5L89.18,497.74M86.85,498.5L88.29,500.48M86.85,498.5L85.41,500.48M86.85,498.5L84.52,497.74" stroke="#111" stroke-width="1.35" stroke-linecap="round" fill="none"/>
<line x1="101.55" y1="475.3" x2="101.55" y2="480.9" stroke="#2a2a2a" stroke-width="0.8"/>
<line x1="98.55" y1="475.3" x2="104.55" y2="475.3" stroke="#2a2a2a" stroke-width="0.8"/>
<rect x="94.2" y="480.9" width="14.7" height="62.6" fill="#666666" stroke="#2a2a2a" stroke-width="0.75"/>
<path d="M101.55,467.4L101.55,464.95M101.55,467.4L103.88,466.64M101.55,467.4L102.99,469.38M101.55,467.4L100.11,469.38M101.55,467.4L99.22,466.64" stroke="#111" stroke-width="1.35" stroke-linecap="round" fill="none"/>
<line x1="130.95" y1="525.6" x2="130.95" y2="526.6" stroke="#2a2a2a" stroke-width="0.8"/>
<line x1="127.95" y1="525.6" x2="133.95" y2="525.6" stroke="#2a2a2a" stroke-width="0.8"/>
<rect x="123.6" y="526.6" width="14.7" height="16.9" fill="#ededed" stroke="#2a2a2a" stroke-width="0.75"/>
<path d="M130.95,516.3L130.95,513.85M130.95,516.3L133.28,515.54M130.95,516.3L132.39,518.28M130.95,516.3L129.51,518.28M130.95,516.3L128.62,515.54" stroke="#111" stroke-width="1.35" stroke-linecap="round" fill="none"/>
<rect x="138.3" y="508.2" width="14.7" height="35.3" fill="#ededed" stroke="#2a2a2a" stroke-width="0.75"/>
<path d="M145.65,499L145.65,496.55M145.65,499L147.98,498.24M145.65,499L147.09,500.98M145.65,499L144.21,500.98M145.65,499L143.32,498.24" stroke="#111" stroke-width="1.35" stroke-linecap="round" fill="none"/>
<line x1="35.4" y1="454.2" x2="35.4" y2="544" stroke="#555" stroke-width="1"/>
<line x1="35.4" y1="543.5" x2="153" y2="543.5" stroke="#555" stroke-width="1"/>
<line x1="33.4" y1="543.5" x2="35.4" y2="543.5" stroke="#555" stroke-width="0.9"/>
<text x="31.1" y="545.8" font-size="6.5" text-anchor="end" fill="#333" stroke="#333" stroke-width="0.25">0</text>
<line x1="33.4" y1="521.17" x2="35.4" y2="521.17" stroke="#555" stroke-width="0.9"/>
<text x="31.1" y="523.47" font-size="6.5" text-anchor="end" fill="#333" stroke="#333" stroke-width="0.25">2000</text>
<line x1="33.4" y1="498.85" x2="35.4" y2="498.85" stroke="#555" stroke-width="0.9"/>
<text x="31.1" y="501.15" font-size="6.5" text-anchor="end" fill="#333" stroke="#333" stroke-width="0.25">4000</text>
<line x1="33.4" y1="476.52" x2="35.4" y2="476.52" stroke="#555" stroke-width="0.9"/>
<text x="31.1" y="478.82" font-size="6.5" text-anchor="end" fill="#333" stroke="#333" stroke-width="0.25">6000</text>
<line x1="33.4" y1="454.2" x2="35.4" y2="454.2" stroke="#555" stroke-width="0.9"/>
<text x="31.1" y="456.5" font-size="6.5" text-anchor="end" fill="#333" stroke="#333" stroke-width="0.25">8000</text>
<line x1="108.9" y1="543.5" x2="108.9" y2="545.5" stroke="#555" stroke-width="0.8"/>
<line x1="123.6" y1="543.5" x2="123.6" y2="545.5" stroke="#555" stroke-width="0.8"/>
<text x="38.9" y="463.2" font-size="10.5" fill="#111" stroke="#111" stroke-width="0.25">P815</text>
<text transform="translate(9.5,497.6) rotate(-90)" font-size="10.5" text-anchor="middle" fill="#111" stroke="#111" stroke-width="0.25">Caspase 3/7 (RFU)</text>
<text x="42.75" y="552.3" font-size="6.2" text-anchor="middle" fill="#222" stroke="#222" stroke-width="0.25">0.0</text>
<text x="57.45" y="552.3" font-size="6.2" text-anchor="middle" fill="#222" stroke="#222" stroke-width="0.25">0.13</text>
<text x="72.15" y="552.3" font-size="6.2" text-anchor="middle" fill="#222" stroke="#222" stroke-width="0.25">0.25</text>
<text x="86.85" y="552.3" font-size="6.2" text-anchor="middle" fill="#222" stroke="#222" stroke-width="0.25">0.5</text>
<text x="101.55" y="552.3" font-size="6.2" text-anchor="middle" fill="#222" stroke="#222" stroke-width="0.25">1.0</text>
<text x="130.95" y="552.3" font-size="6.2" text-anchor="middle" fill="#222" stroke="#222" stroke-width="0.25">0.5</text>
<text x="145.65" y="552.3" font-size="6.2" text-anchor="middle" fill="#222" stroke="#222" stroke-width="0.25">1.0</text>
<line x1="33.9" y1="555.7" x2="109.2" y2="555.7" stroke="#333" stroke-width="1.3"/>
<line x1="123.6" y1="555.7" x2="153.5" y2="555.7" stroke="#333" stroke-width="1.3"/>
<text x="70.85" y="565" font-size="8.2" text-anchor="middle" fill="#111" stroke="#111" stroke-width="0.25">AR-42</text>
<text x="138.3" y="565" font-size="8.2" text-anchor="middle" fill="#111" stroke="#111" stroke-width="0.25">17-AAG</text>
<line x1="33.9" y1="566.9" x2="153.5" y2="566.9" stroke="#333" stroke-width="1.3"/>
<text x="94.2" y="578.4" font-size="10.6" text-anchor="middle" fill="#111" stroke="#111" stroke-width="0.25">(µM)</text>
<rect x="214.6" y="539" width="14.73" height="4.7" fill="#666666" stroke="#2a2a2a" stroke-width="0.75"/>
<rect x="229.33" y="533.8" width="14.73" height="9.9" fill="#666666" stroke="#2a2a2a" stroke-width="0.75"/>
<line x1="251.43" y1="511.3" x2="251.43" y2="513" stroke="#2a2a2a" stroke-width="0.8"/>
<line x1="248.43" y1="511.3" x2="254.43" y2="511.3" stroke="#2a2a2a" stroke-width="0.8"/>
<rect x="244.06" y="513" width="14.73" height="30.7" fill="#666666" stroke="#2a2a2a" stroke-width="0.75"/>
<path d="M251.43,503.8L251.43,501.35M251.43,503.8L253.76,503.04M251.43,503.8L252.87,505.78M251.43,503.8L249.98,505.78M251.43,503.8L249.09,503.04" stroke="#111" stroke-width="1.35" stroke-linecap="round" fill="none"/>
<line x1="266.15" y1="488.2" x2="266.15" y2="491.1" stroke="#2a2a2a" stroke-width="0.8"/>
<line x1="263.15" y1="488.2" x2="269.15" y2="488.2" stroke="#2a2a2a" stroke-width="0.8"/>
<rect x="258.79" y="491.1" width="14.73" height="52.6" fill="#666666" stroke="#2a2a2a" stroke-width="0.75"/>
<path d="M266.15,478.8L266.15,476.35M266.15,478.8L268.49,478.04M266.15,478.8L267.6,480.78M266.15,478.8L264.71,480.78M266.15,478.8L263.82,478.04" stroke="#111" stroke-width="1.35" stroke-linecap="round" fill="none"/>
<line x1="280.88" y1="474" x2="280.88" y2="477" stroke="#2a2a2a" stroke-width="0.8"/>
<line x1="277.88" y1="474" x2="283.88" y2="474" stroke="#2a2a2a" stroke-width="0.8"/>
<rect x="273.52" y="477" width="14.73" height="66.7" fill="#666666" stroke="#2a2a2a" stroke-width="0.75"/>
<path d="M280.88,466.8L280.88,464.35M280.88,466.8L283.22,466.04M280.88,466.8L282.33,468.78M280.88,466.8L279.44,468.78M280.88,466.8L278.55,466.04" stroke="#111" stroke-width="1.35" stroke-linecap="round" fill="none"/>
<line x1="310.35" y1="512.1" x2="310.35" y2="515.6" stroke="#2a2a2a" stroke-width="0.8"/>
<line x1="307.35" y1="512.1" x2="313.35" y2="512.1" stroke="#2a2a2a" stroke-width="0.8"/>
<rect x="302.98" y="515.6" width="14.73" height="28.1" fill="#ededed" stroke="#2a2a2a" stroke-width="0.75"/>
<path d="M310.35,505.2L310.35,502.75M310.35,505.2L312.68,504.44M310.35,505.2L311.79,507.18M310.35,505.2L308.9,507.18M310.35,505.2L308.01,504.44" stroke="#111" stroke-width="1.35" stroke-linecap="round" fill="none"/>
<rect x="317.71" y="517.7" width="14.73" height="26" fill="#ededed" stroke="#2a2a2a" stroke-width="0.75"/>
<path d="M325.07,508.3L325.07,505.85M325.07,508.3L327.41,507.54M325.07,508.3L326.52,510.28M325.07,508.3L323.63,510.28M325.07,508.3L322.74,507.54" stroke="#111" stroke-width="1.35" stroke-linecap="round" fill="none"/>
<line x1="214.6" y1="453.7" x2="214.6" y2="544.2" stroke="#555" stroke-width="1"/>
<line x1="214.6" y1="543.7" x2="332.44" y2="543.7" stroke="#555" stroke-width="1"/>
<line x1="212.6" y1="543.7" x2="214.6" y2="543.7" stroke="#555" stroke-width="0.9"/>
<text x="210.3" y="546" font-size="6.5" text-anchor="end" fill="#333" stroke="#333" stroke-width="0.25">0</text>
<line x1="212.6" y1="521.2" x2="214.6" y2="521.2" stroke="#555" stroke-width="0.9"/>
<text x="210.3" y="523.5" font-size="6.5" text-anchor="end" fill="#333" stroke="#333" stroke-width="0.25">2000</text>
<line x1="212.6" y1="498.7" x2="214.6" y2="498.7" stroke="#555" stroke-width="0.9"/>
<text x="210.3" y="501" font-size="6.5" text-anchor="end" fill="#333" stroke="#333" stroke-width="0.25">4000</text>
<line x1="212.6" y1="476.2" x2="214.6" y2="476.2" stroke="#555" stroke-width="0.9"/>
<text x="210.3" y="478.5" font-size="6.5" text-anchor="end" fill="#333" stroke="#333" stroke-width="0.25">6000</text>
<line x1="212.6" y1="453.7" x2="214.6" y2="453.7" stroke="#555" stroke-width="0.9"/>
<text x="210.3" y="456" font-size="6.5" text-anchor="end" fill="#333" stroke="#333" stroke-width="0.25">8000</text>
<line x1="288.25" y1="543.7" x2="288.25" y2="545.7" stroke="#555" stroke-width="0.8"/>
<line x1="302.98" y1="543.7" x2="302.98" y2="545.7" stroke="#555" stroke-width="0.8"/>
<text x="220.8" y="463.2" font-size="10.5" fill="#111" stroke="#111" stroke-width="0.25">C2</text>
<text transform="translate(189.6,497.6) rotate(-90)" font-size="10.5" text-anchor="middle" fill="#111" stroke="#111" stroke-width="0.25">Caspase 3/7 (RFU)</text>
<text x="221.97" y="552.3" font-size="6.2" text-anchor="middle" fill="#222" stroke="#222" stroke-width="0.25">0.0</text>
<text x="236.69" y="552.3" font-size="6.2" text-anchor="middle" fill="#222" stroke="#222" stroke-width="0.25">0.13</text>
<text x="251.43" y="552.3" font-size="6.2" text-anchor="middle" fill="#222" stroke="#222" stroke-width="0.25">0.25</text>
<text x="266.15" y="552.3" font-size="6.2" text-anchor="middle" fill="#222" stroke="#222" stroke-width="0.25">0.5</text>
<text x="280.88" y="552.3" font-size="6.2" text-anchor="middle" fill="#222" stroke="#222" stroke-width="0.25">1.0</text>
<text x="310.35" y="552.3" font-size="6.2" text-anchor="middle" fill="#222" stroke="#222" stroke-width="0.25">0.5</text>
<text x="325.07" y="552.3" font-size="6.2" text-anchor="middle" fill="#222" stroke="#222" stroke-width="0.25">1.0</text>
<line x1="213.1" y1="555.7" x2="288.55" y2="555.7" stroke="#333" stroke-width="1.3"/>
<line x1="302.98" y1="555.7" x2="332.94" y2="555.7" stroke="#333" stroke-width="1.3"/>
<text x="250.12" y="565" font-size="8.2" text-anchor="middle" fill="#111" stroke="#111" stroke-width="0.25">AR-42</text>
<text x="317.71" y="565" font-size="8.2" text-anchor="middle" fill="#111" stroke="#111" stroke-width="0.25">17-AAG</text>
<line x1="213.1" y1="566.9" x2="332.94" y2="566.9" stroke="#333" stroke-width="1.3"/>
<text x="273.52" y="578.4" font-size="10.6" text-anchor="middle" fill="#111" stroke="#111" stroke-width="0.25">(µM)</text>
<line x1="399.18" y1="539.6" x2="399.18" y2="540.5" stroke="#2a2a2a" stroke-width="0.8"/>
<line x1="396.18" y1="539.6" x2="402.18" y2="539.6" stroke="#2a2a2a" stroke-width="0.8"/>
<rect x="391.7" y="540.5" width="14.95" height="3.2" fill="#666666" stroke="#2a2a2a" stroke-width="0.75"/>
<line x1="414.12" y1="530.2" x2="414.12" y2="532.9" stroke="#2a2a2a" stroke-width="0.8"/>
<line x1="411.12" y1="530.2" x2="417.12" y2="530.2" stroke="#2a2a2a" stroke-width="0.8"/>
<rect x="406.65" y="532.9" width="14.95" height="10.8" fill="#666666" stroke="#2a2a2a" stroke-width="0.75"/>
<path d="M414.12,522L414.12,519.55M414.12,522L416.46,521.24M414.12,522L415.57,523.98M414.12,522L412.68,523.98M414.12,522L411.79,521.24" stroke="#111" stroke-width="1.35" stroke-linecap="round" fill="none"/>
<line x1="429.07" y1="505.9" x2="429.07" y2="509.9" stroke="#2a2a2a" stroke-width="0.8"/>
<line x1="426.07" y1="505.9" x2="432.07" y2="505.9" stroke="#2a2a2a" stroke-width="0.8"/>
<rect x="421.6" y="509.9" width="14.95" height="33.8" fill="#666666" stroke="#2a2a2a" stroke-width="0.75"/>
<path d="M429.07,497.8L429.07,495.35M429.07,497.8L431.41,497.04M429.07,497.8L430.52,499.78M429.07,497.8L427.63,499.78M429.07,497.8L426.74,497.04" stroke="#111" stroke-width="1.35" stroke-linecap="round" fill="none"/>
<line x1="444.02" y1="492.2" x2="444.02" y2="497.4" stroke="#2a2a2a" stroke-width="0.8"/>
<line x1="441.02" y1="492.2" x2="447.02" y2="492.2" stroke="#2a2a2a" stroke-width="0.8"/>
<rect x="436.55" y="497.4" width="14.95" height="46.3" fill="#666666" stroke="#2a2a2a" stroke-width="0.75"/>
<path d="M444.02,485.8L444.02,483.35M444.02,485.8L446.36,485.04M444.02,485.8L445.47,487.78M444.02,485.8L442.58,487.78M444.02,485.8L441.69,485.04" stroke="#111" stroke-width="1.35" stroke-linecap="round" fill="none"/>
<line x1="458.98" y1="479.2" x2="458.98" y2="485" stroke="#2a2a2a" stroke-width="0.8"/>
<line x1="455.98" y1="479.2" x2="461.98" y2="479.2" stroke="#2a2a2a" stroke-width="0.8"/>
<rect x="451.5" y="485" width="14.95" height="58.7" fill="#666666" stroke="#2a2a2a" stroke-width="0.75"/>
<path d="M458.98,472.3L458.98,469.85M458.98,472.3L461.31,471.54M458.98,472.3L460.42,474.28M458.98,472.3L457.53,474.28M458.98,472.3L456.64,471.54" stroke="#111" stroke-width="1.35" stroke-linecap="round" fill="none"/>
<line x1="488.88" y1="529.4" x2="488.88" y2="531.5" stroke="#2a2a2a" stroke-width="0.8"/>
<line x1="485.88" y1="529.4" x2="491.88" y2="529.4" stroke="#2a2a2a" stroke-width="0.8"/>
<rect x="481.4" y="531.5" width="14.95" height="12.2" fill="#ededed" stroke="#2a2a2a" stroke-width="0.75"/>
<path d="M488.88,522.5L488.88,520.05M488.88,522.5L491.21,521.74M488.88,522.5L490.32,524.48M488.88,522.5L487.43,524.48M488.88,522.5L486.54,521.74" stroke="#111" stroke-width="1.35" stroke-linecap="round" fill="none"/>
<line x1="503.82" y1="532.4" x2="503.82" y2="533.4" stroke="#2a2a2a" stroke-width="0.8"/>
<line x1="500.82" y1="532.4" x2="506.82" y2="532.4" stroke="#2a2a2a" stroke-width="0.8"/>
<rect x="496.35" y="533.4" width="14.95" height="10.3" fill="#ededed" stroke="#2a2a2a" stroke-width="0.75"/>
<path d="M503.82,524.2L503.82,521.75M503.82,524.2L506.16,523.44M503.82,524.2L505.27,526.18M503.82,524.2L502.38,526.18M503.82,524.2L501.49,523.44" stroke="#111" stroke-width="1.35" stroke-linecap="round" fill="none"/>
<line x1="391.7" y1="453.7" x2="391.7" y2="544.2" stroke="#555" stroke-width="1"/>
<line x1="391.7" y1="543.7" x2="511.3" y2="543.7" stroke="#555" stroke-width="1"/>
<line x1="389.7" y1="543.7" x2="391.7" y2="543.7" stroke="#555" stroke-width="0.9"/>
<text x="387.4" y="546" font-size="6.5" text-anchor="end" fill="#333" stroke="#333" stroke-width="0.25">0</text>
<line x1="389.7" y1="513.7" x2="391.7" y2="513.7" stroke="#555" stroke-width="0.9"/>
<text x="387.4" y="516" font-size="6.5" text-anchor="end" fill="#333" stroke="#333" stroke-width="0.25">1000</text>
<line x1="389.7" y1="483.7" x2="391.7" y2="483.7" stroke="#555" stroke-width="0.9"/>
<text x="387.4" y="486" font-size="6.5" text-anchor="end" fill="#333" stroke="#333" stroke-width="0.25">2000</text>
<line x1="389.7" y1="453.7" x2="391.7" y2="453.7" stroke="#555" stroke-width="0.9"/>
<text x="387.4" y="456" font-size="6.5" text-anchor="end" fill="#333" stroke="#333" stroke-width="0.25">3000</text>
<line x1="466.45" y1="543.7" x2="466.45" y2="545.7" stroke="#555" stroke-width="0.8"/>
<line x1="481.4" y1="543.7" x2="481.4" y2="545.7" stroke="#555" stroke-width="0.8"/>
<text x="399.1" y="463.2" font-size="10.5" fill="#111" stroke="#111" stroke-width="0.25">BR</text>
<text transform="translate(366.5,497.6) rotate(-90)" font-size="10.5" text-anchor="middle" fill="#111" stroke="#111" stroke-width="0.25">Caspase 3/7 (RFU)</text>
<text x="399.18" y="552.3" font-size="6.2" text-anchor="middle" fill="#222" stroke="#222" stroke-width="0.25">0.0</text>
<text x="414.12" y="552.3" font-size="6.2" text-anchor="middle" fill="#222" stroke="#222" stroke-width="0.25">0.13</text>
<text x="429.07" y="552.3" font-size="6.2" text-anchor="middle" fill="#222" stroke="#222" stroke-width="0.25">0.25</text>
<text x="444.02" y="552.3" font-size="6.2" text-anchor="middle" fill="#222" stroke="#222" stroke-width="0.25">0.5</text>
<text x="458.97" y="552.3" font-size="6.2" text-anchor="middle" fill="#222" stroke="#222" stroke-width="0.25">1.0</text>
<text x="488.88" y="552.3" font-size="6.2" text-anchor="middle" fill="#222" stroke="#222" stroke-width="0.25">0.5</text>
<text x="503.82" y="552.3" font-size="6.2" text-anchor="middle" fill="#222" stroke="#222" stroke-width="0.25">1.0</text>
<line x1="390.2" y1="555.7" x2="466.75" y2="555.7" stroke="#333" stroke-width="1.3"/>
<line x1="481.4" y1="555.7" x2="511.8" y2="555.7" stroke="#333" stroke-width="1.3"/>
<text x="427.77" y="565" font-size="8.2" text-anchor="middle" fill="#111" stroke="#111" stroke-width="0.25">AR-42</text>
<text x="496.35" y="565" font-size="8.2" text-anchor="middle" fill="#111" stroke="#111" stroke-width="0.25">17-AAG</text>
<line x1="390.2" y1="566.9" x2="511.8" y2="566.9" stroke="#333" stroke-width="1.3"/>
<text x="451.5" y="578.4" font-size="10.6" text-anchor="middle" fill="#111" stroke="#111" stroke-width="0.25">(µM)</text>
<defs><filter id="bl" x="-20%" y="-50%" width="140%" height="200%"><feGaussianBlur stdDeviation="0.9"/></filter><filter id="bl2" x="-20%" y="-50%" width="140%" height="200%"><feGaussianBlur stdDeviation="0.6"/></filter></defs>
<line x1="35.5" y1="605.1" x2="152.3" y2="605.1" stroke="#333" stroke-width="1.5"/>
<text x="93.8" y="602.7" font-size="10.6" text-anchor="middle" fill="#111" stroke="#111" stroke-width="0.25">P815</text>
<text transform="translate(51.9,637.6) rotate(-90)" font-size="7.8" text-anchor="start" fill="#111" stroke="#111" stroke-width="0.25">DMSO</text>
<text transform="translate(143.1,637.3) rotate(-90)" font-size="7.8" text-anchor="start" fill="#111" stroke="#111" stroke-width="0.25">17-AAG</text>
<text x="93" y="627.2" font-size="8.4" text-anchor="middle" fill="#111" stroke="#111" stroke-width="0.25">AR-42 (µM)</text>
<line x1="61.8" y1="629.7" x2="124.6" y2="629.7" stroke="#222" stroke-width="1.0"/>
<text x="71.9" y="637.8" font-size="8.2" text-anchor="middle" fill="#111" stroke="#111" stroke-width="0.25">0.25</text>
<text x="94.6" y="637.8" font-size="8.2" text-anchor="middle" fill="#111" stroke="#111" stroke-width="0.25">0.5</text>
<text x="117" y="637.8" font-size="8.2" text-anchor="middle" fill="#111" stroke="#111" stroke-width="0.25">1.0</text>
<text x="32.9" y="652.8" font-size="8.8" text-anchor="end" fill="#111" stroke="#111" stroke-width="0.25">Bcl-2</text>
<text x="32.9" y="669" font-size="8.8" text-anchor="end" fill="#111" stroke="#111" stroke-width="0.25">Bcl-X<tspan font-size="7.3" dy="2.3">L</tspan></text>
<text x="32.9" y="687.4" font-size="8.8" text-anchor="end" fill="#111" stroke="#111" stroke-width="0.25">PARP</text>
<text x="32.9" y="704.2" font-size="8.8" text-anchor="end" fill="#111" stroke="#111" stroke-width="0.25">c-PARP</text>
<text x="32.9" y="722" font-size="8.8" text-anchor="end" fill="#111" stroke="#111" stroke-width="0.25">β-actin</text>
<rect x="35.5" y="641.6" width="117.1" height="15.7" fill="#dadada"/>
<rect x="35.5" y="659.4" width="117.1" height="15.1" fill="#dadada"/>
<rect x="35.5" y="676.4" width="117.1" height="16" fill="#dcdcdc"/>
<rect x="35.5" y="694.2" width="117.1" height="15.7" fill="#d9d9d9"/>
<rect x="35.5" y="712.1" width="117.1" height="15.4" fill="#d9d9d9"/>
<line x1="215.9" y1="605.1" x2="330.4" y2="605.1" stroke="#333" stroke-width="1.5"/>
<text x="273.3" y="602.7" font-size="10.6" text-anchor="middle" fill="#111" stroke="#111" stroke-width="0.25">C2</text>
<text transform="translate(231.4,637.6) rotate(-90)" font-size="7.8" text-anchor="start" fill="#111" stroke="#111" stroke-width="0.25">DMSO</text>
<text transform="translate(323.1,637.3) rotate(-90)" font-size="7.8" text-anchor="start" fill="#111" stroke="#111" stroke-width="0.25">17-AAG</text>
<text x="271.7" y="627.2" font-size="8.4" text-anchor="middle" fill="#111" stroke="#111" stroke-width="0.25">AR-42 (µM)</text>
<line x1="241.5" y1="629.7" x2="306.3" y2="629.7" stroke="#222" stroke-width="1.0"/>
<text x="251.9" y="637.8" font-size="8.2" text-anchor="middle" fill="#111" stroke="#111" stroke-width="0.25">0.25</text>
<text x="274.8" y="637.8" font-size="8.2" text-anchor="middle" fill="#111" stroke="#111" stroke-width="0.25">0.5</text>
<text x="297.7" y="637.8" font-size="8.2" text-anchor="middle" fill="#111" stroke="#111" stroke-width="0.25">1.0</text>
<text x="212.6" y="652.8" font-size="8.8" text-anchor="end" fill="#111" stroke="#111" stroke-width="0.25">Bcl-2</text>
<text x="212.6" y="669" font-size="8.8" text-anchor="end" fill="#111" stroke="#111" stroke-width="0.25">Bcl-X<tspan font-size="7.3" dy="2.3">L</tspan></text>
<text x="212.6" y="687.4" font-size="8.8" text-anchor="end" fill="#111" stroke="#111" stroke-width="0.25">PARP</text>
<text x="212.6" y="704.2" font-size="8.8" text-anchor="end" fill="#111" stroke="#111" stroke-width="0.25">c-PARP</text>
<text x="212.6" y="722" font-size="8.8" text-anchor="end" fill="#111" stroke="#111" stroke-width="0.25">β-actin</text>
<rect x="215.5" y="641.6" width="115.5" height="15.7" fill="#dadada"/>
<rect x="215.5" y="659.4" width="115.5" height="15.1" fill="#dadada"/>
<rect x="215.5" y="676.4" width="115.5" height="16" fill="#dcdcdc"/>
<rect x="215.5" y="694.2" width="115.5" height="15.7" fill="#d9d9d9"/>
<rect x="215.5" y="712.1" width="115.5" height="15.4" fill="#d9d9d9"/>
<line x1="378.4" y1="605.1" x2="519.5" y2="605.1" stroke="#333" stroke-width="1.5"/>
<text x="448.9" y="602.7" font-size="10.6" text-anchor="middle" fill="#111" stroke="#111" stroke-width="0.25">BR</text>
<text transform="translate(393.3,637.6) rotate(-90)" font-size="7.8" text-anchor="start" fill="#111" stroke="#111" stroke-width="0.25">DMSO</text>
<text transform="translate(484.4,637.3) rotate(-90)" font-size="7.8" text-anchor="start" fill="#111" stroke="#111" stroke-width="0.25">17-AAG</text>
<text x="435.3" y="627.2" font-size="8.4" text-anchor="middle" fill="#111" stroke="#111" stroke-width="0.25">AR-42 (µM)</text>
<line x1="401.4" y1="629.7" x2="469" y2="629.7" stroke="#222" stroke-width="1.0"/>
<text x="413.8" y="637.8" font-size="8.2" text-anchor="middle" fill="#111" stroke="#111" stroke-width="0.25">0.25</text>
<text x="436.4" y="637.8" font-size="8.2" text-anchor="middle" fill="#111" stroke="#111" stroke-width="0.25">0.5</text>
<text x="458.9" y="637.8" font-size="8.2" text-anchor="middle" fill="#111" stroke="#111" stroke-width="0.25">1.0</text>
<text x="375.1" y="652.8" font-size="8.8" text-anchor="end" fill="#111" stroke="#111" stroke-width="0.25">Bcl-2</text>
<text x="375.1" y="669" font-size="8.8" text-anchor="end" fill="#111" stroke="#111" stroke-width="0.25">Bcl-X<tspan font-size="7.3" dy="2.3">L</tspan></text>
<text x="375.1" y="687.4" font-size="8.8" text-anchor="end" fill="#111" stroke="#111" stroke-width="0.25">PARP</text>
<text x="375.1" y="704.2" font-size="8.8" text-anchor="end" fill="#111" stroke="#111" stroke-width="0.25">c-PARP</text>
<text x="375.1" y="722" font-size="8.8" text-anchor="end" fill="#111" stroke="#111" stroke-width="0.25">β-actin</text>
<rect x="377.3" y="641.6" width="116.3" height="15.7" fill="#dadada"/>
<rect x="377.3" y="659.4" width="116.3" height="15.1" fill="#dcdcdc"/>
<rect x="377.3" y="676.4" width="116.3" height="16" fill="#dedede"/>
<rect x="377.3" y="694.2" width="116.3" height="15.7" fill="#e8e8e8"/>
<rect x="377.3" y="712.1" width="116.3" height="15.4" fill="#e0e0e0"/>
<text transform="translate(506,637.1) rotate(-90)" font-size="7.8" text-anchor="start" fill="#111" stroke="#111" stroke-width="0.25">C2</text>
<text transform="translate(514.2,637.1) rotate(-90)" font-size="7.8" text-anchor="start" fill="#111" stroke="#111" stroke-width="0.25">control</text>
<path d="M37,646.5 C40,643.8 52,643.6 58,645 C64,643.6 76,643.4 81,644.8 C87,643.6 98,643.6 103,645 C109,643.2 121,643.2 126,644.8 C132,643.4 146,643.4 151,645.5 L151.5,654.5 C146,657 132,657 126,655.5 C121,657 109,657 103,655.5 C98,656.6 87,656.6 81,655.3 C76,656.6 64,656.6 58,655.3 C52,656.5 40,656.5 37,655 Z" fill="#0a0a0a" fill-opacity="1.0" filter="url(#bl)"/>
<rect x="36.1" y="664.1" width="21.8" height="7.6" rx="3.8" ry="3.8" fill="#0a0a0a" fill-opacity="1.0" filter="url(#bl)"/>
<rect x="58.9" y="664.1" width="21.8" height="7.6" rx="3.8" ry="3.8" fill="#0a0a0a" fill-opacity="1.0" filter="url(#bl)"/>
<rect x="81.7" y="664.1" width="21.8" height="7.6" rx="3.8" ry="3.8" fill="#0a0a0a" fill-opacity="1.0" filter="url(#bl)"/>
<rect x="104.7" y="664.1" width="21.8" height="7.6" rx="3.8" ry="3.8" fill="#0a0a0a" fill-opacity="1.0" filter="url(#bl)"/>
<rect x="127.7" y="664.1" width="21.8" height="7.6" rx="3.8" ry="3.8" fill="#0a0a0a" fill-opacity="1.0" filter="url(#bl)"/>
<path d="M141,665.5 C146,664.5 150,665.5 151.5,668 L152,674.5 C150,673 147,671 141,671 Z" fill="#0a0a0a" fill-opacity="1.0" filter="url(#bl)"/>
<rect x="35.25" y="682.1" width="23.5" height="5" rx="2.5" ry="2.5" fill="#0a0a0a" fill-opacity="1.0" filter="url(#bl)"/>
<rect x="58.05" y="682" width="23.5" height="5" rx="2.5" ry="2.5" fill="#0a0a0a" fill-opacity="1.0" filter="url(#bl)"/>
<rect x="81.6" y="682.9" width="22" height="3" rx="1.5" ry="1.5" fill="#0a0a0a" fill-opacity="1.0" filter="url(#bl)"/>
<rect x="104.1" y="681.8" width="23" height="5" rx="2.5" ry="2.5" fill="#0a0a0a" fill-opacity="1.0" filter="url(#bl)"/>
<rect x="126.6" y="681.3" width="24" height="6" rx="3" ry="3" fill="#0a0a0a" fill-opacity="1.0" filter="url(#bl)"/>
<rect x="37" y="686.8" width="20" height="2.4" rx="1.2" ry="1.2" fill="#0a0a0a" fill-opacity="0.6" filter="url(#bl)"/>
<rect x="59.8" y="686.8" width="20" height="2.4" rx="1.2" ry="1.2" fill="#0a0a0a" fill-opacity="0.6" filter="url(#bl)"/>
<rect x="37" y="699.7" width="20" height="4" rx="2" ry="2" fill="#0a0a0a" fill-opacity="1.0" filter="url(#bl)"/>
<rect x="58.8" y="698.4" width="22" height="6" rx="3" ry="3" fill="#0a0a0a" fill-opacity="1.0" filter="url(#bl)"/>
<rect x="80.85" y="697.8" width="23.5" height="8.4" rx="4.2" ry="4.2" fill="#0a0a0a" fill-opacity="1.0" filter="url(#bl)"/>
<rect x="103.85" y="697.7" width="23.5" height="8.2" rx="4.1" ry="4.1" fill="#0a0a0a" fill-opacity="1.0" filter="url(#bl)"/>
<rect x="127.1" y="697.8" width="23" height="8" rx="4" ry="4" fill="#0a0a0a" fill-opacity="1.0" filter="url(#bl)"/>
<path d="M143,699 C147,698 150,699 151.5,702 L152,709.5 C150,708 147,706 143,705.5 Z" fill="#0a0a0a" fill-opacity="1.0" filter="url(#bl)"/>
<rect x="36.5" y="716.7" width="21" height="5.2" rx="2.6" ry="2.6" fill="#0a0a0a" fill-opacity="1.0" filter="url(#bl)"/>
<rect x="59.8" y="717" width="20" height="4.6" rx="2.3" ry="2.3" fill="#0a0a0a" fill-opacity="1.0" filter="url(#bl)"/>
<rect x="82.1" y="717" width="21" height="4.6" rx="2.3" ry="2.3" fill="#0a0a0a" fill-opacity="1.0" filter="url(#bl)"/>
<rect x="104.6" y="716.7" width="22" height="5.2" rx="2.6" ry="2.6" fill="#0a0a0a" fill-opacity="1.0" filter="url(#bl)"/>
<rect x="129.1" y="717.3" width="19" height="4" rx="2" ry="2" fill="#0a0a0a" fill-opacity="1.0" filter="url(#bl)"/>
<rect x="216.55" y="644.1" width="21.5" height="7" rx="3.5" ry="3.5" fill="#0a0a0a" fill-opacity="1.0" filter="url(#bl)"/>
<rect x="217.3" y="649.3" width="20" height="2.6" rx="1.3" ry="1.3" fill="#0a0a0a" fill-opacity="0.75" filter="url(#bl)"/>
<rect x="239.95" y="644.3" width="20.5" height="5.4" rx="2.7" ry="2.7" fill="#0a0a0a" fill-opacity="1.0" filter="url(#bl)"/>
<rect x="262.4" y="643.5" width="22" height="7.4" rx="3.7" ry="3.7" fill="#0a0a0a" fill-opacity="1.0" filter="url(#bl)"/>
<rect x="286.4" y="644.75" width="20" height="4.9" rx="2.45" ry="2.45" fill="#0a0a0a" fill-opacity="1.0" filter="url(#bl)"/>
<rect x="287.9" y="649.4" width="17" height="2" rx="1" ry="1" fill="#0a0a0a" fill-opacity="0.45" filter="url(#bl)"/>
<rect x="300.4" y="650.3" width="4" height="1.8" rx="0.9" ry="0.9" fill="#0a0a0a" fill-opacity="0.6" filter="url(#bl)"/>
<rect x="308.2" y="643.6" width="22" height="8.8" rx="4.4" ry="4.4" fill="#0a0a0a" fill-opacity="1.0" filter="url(#bl)"/>
<rect x="216.05" y="661.7" width="22.5" height="5.8" rx="2.9" ry="2.9" fill="#0a0a0a" fill-opacity="1.0" filter="url(#bl)"/>
<rect x="239.95" y="661.7" width="20.5" height="6.8" rx="3.4" ry="3.4" fill="#0a0a0a" fill-opacity="1.0" filter="url(#bl)"/>
<rect x="261.9" y="661.1" width="23" height="9" rx="4.5" ry="4.5" fill="#0a0a0a" fill-opacity="1.0" filter="url(#bl)"/>
<rect x="285.9" y="661.1" width="21" height="9" rx="4.5" ry="4.5" fill="#0a0a0a" fill-opacity="1.0" filter="url(#bl)"/>
<rect x="308.95" y="661.2" width="20.5" height="8.4" rx="4.2" ry="4.2" fill="#0a0a0a" fill-opacity="1.0" filter="url(#bl)"/>
<rect x="216.05" y="681.3" width="22.5" height="6.2" rx="3.1" ry="3.1" fill="#0a0a0a" fill-opacity="1.0" filter="url(#bl)"/>
<rect x="238.45" y="681.3" width="23.5" height="6.2" rx="3.1" ry="3.1" fill="#0a0a0a" fill-opacity="1.0" filter="url(#bl)"/>
<rect x="261.65" y="681.3" width="23.5" height="6.2" rx="3.1" ry="3.1" fill="#0a0a0a" fill-opacity="1.0" filter="url(#bl)"/>
<rect x="285.65" y="681.3" width="21.5" height="6.2" rx="3.1" ry="3.1" fill="#0a0a0a" fill-opacity="1.0" filter="url(#bl)"/>
<rect x="242.2" y="702" width="15" height="2.6" rx="1.3" ry="1.3" fill="#0a0a0a" fill-opacity="1.0" filter="url(#bl)"/>
<rect x="262.9" y="700.1" width="21" height="5.4" rx="2.7" ry="2.7" fill="#0a0a0a" fill-opacity="1.0" filter="url(#bl)"/>
<rect x="285.15" y="698.5" width="22.5" height="8" rx="4" ry="4" fill="#0a0a0a" fill-opacity="1.0" filter="url(#bl)"/>
<rect x="307.95" y="698.5" width="22.5" height="8" rx="4" ry="4" fill="#0a0a0a" fill-opacity="1.0" filter="url(#bl)"/>
<rect x="216.3" y="714.75" width="22" height="7.5" rx="3.75" ry="3.75" fill="#0a0a0a" fill-opacity="0.95" filter="url(#bl)"/>
<rect x="239.2" y="713.75" width="22" height="8.5" rx="4.25" ry="4.25" fill="#0a0a0a" fill-opacity="0.95" filter="url(#bl)"/>
<rect x="261.9" y="713.8" width="23" height="10" rx="5" ry="5" fill="#0a0a0a" fill-opacity="0.95" filter="url(#bl)"/>
<rect x="285.4" y="714.5" width="22" height="9" rx="4.5" ry="4.5" fill="#0a0a0a" fill-opacity="0.95" filter="url(#bl)"/>
<rect x="308.7" y="715.5" width="21" height="8" rx="4" ry="4" fill="#0a0a0a" fill-opacity="0.95" filter="url(#bl)"/>
<path d="M496.5,648 C500,645 512,644.8 518.5,645.5 L518.8,654.5 C514,656 502,656.5 497,655 Z" fill="#0a0a0a" fill-opacity="1.0" filter="url(#bl)"/>
<rect x="377" y="661.3" width="24" height="10.8" rx="5" ry="5.4" fill="#0a0a0a" fill-opacity="1.0" filter="url(#bl)"/>
<rect x="400" y="661.6" width="24" height="10.2" rx="5" ry="5.1" fill="#0a0a0a" fill-opacity="1.0" filter="url(#bl)"/>
<rect x="423" y="661.6" width="24" height="10.2" rx="5" ry="5.1" fill="#0a0a0a" fill-opacity="1.0" filter="url(#bl)"/>
<rect x="446.25" y="662" width="23.5" height="9.4" rx="5" ry="4.7" fill="#0a0a0a" fill-opacity="1.0" filter="url(#bl)"/>
<rect x="469.5" y="661.6" width="24" height="10.2" rx="5" ry="5.1" fill="#0a0a0a" fill-opacity="1.0" filter="url(#bl)"/>
<rect x="378.5" y="681.5" width="21" height="5.6" rx="2.8" ry="2.8" fill="#0a0a0a" fill-opacity="1.0" filter="url(#bl)"/>
<rect x="403.5" y="682.9" width="17" height="3.4" rx="1.7" ry="1.7" fill="#0a0a0a" fill-opacity="0.68" filter="url(#bl)"/>
<rect x="412" y="683.5" width="6" height="2.6" rx="1.3" ry="1.3" fill="#0a0a0a" fill-opacity="0.6" filter="url(#bl)"/>
<rect x="426" y="682.8" width="18" height="3.6" rx="1.8" ry="1.8" fill="#0a0a0a" fill-opacity="0.7" filter="url(#bl)"/>
<rect x="430" y="683.8" width="6" height="2.8" rx="1.4" ry="1.4" fill="#0a0a0a" fill-opacity="0.5" filter="url(#bl)"/>
<rect x="453" y="683.8" width="10" height="2" rx="1" ry="1" fill="#0a0a0a" fill-opacity="0.25" filter="url(#bl)"/>
<rect x="470" y="681.2" width="23" height="6" rx="3" ry="3" fill="#0a0a0a" fill-opacity="1.0" filter="url(#bl)"/>
<rect x="401" y="697.3" width="23" height="10.6" rx="3" ry="5.3" fill="#0a0a0a" fill-opacity="1.0" filter="url(#bl)"/>
<rect x="423.25" y="697.3" width="23.5" height="10.6" rx="3" ry="5.3" fill="#0a0a0a" fill-opacity="1.0" filter="url(#bl)"/>
<rect x="446.5" y="697.3" width="23" height="10.6" rx="3" ry="5.3" fill="#0a0a0a" fill-opacity="1.0" filter="url(#bl)"/>
<rect x="470.5" y="697.8" width="20" height="9.2" rx="3" ry="4.6" fill="#0a0a0a" fill-opacity="0.9" filter="url(#bl)"/>
<path d="M378,717.4 C400,716.8 430,717 460,716.9 C475,716.7 486,716.2 493,716.7 L493,722.4 C470,722.8 430,722.6 400,722.6 C390,722.6 383,722.6 378,722.2 Z" fill="#0a0a0a" fill-opacity="1.0" filter="url(#bl)"/>
</svg>
</body></html>
